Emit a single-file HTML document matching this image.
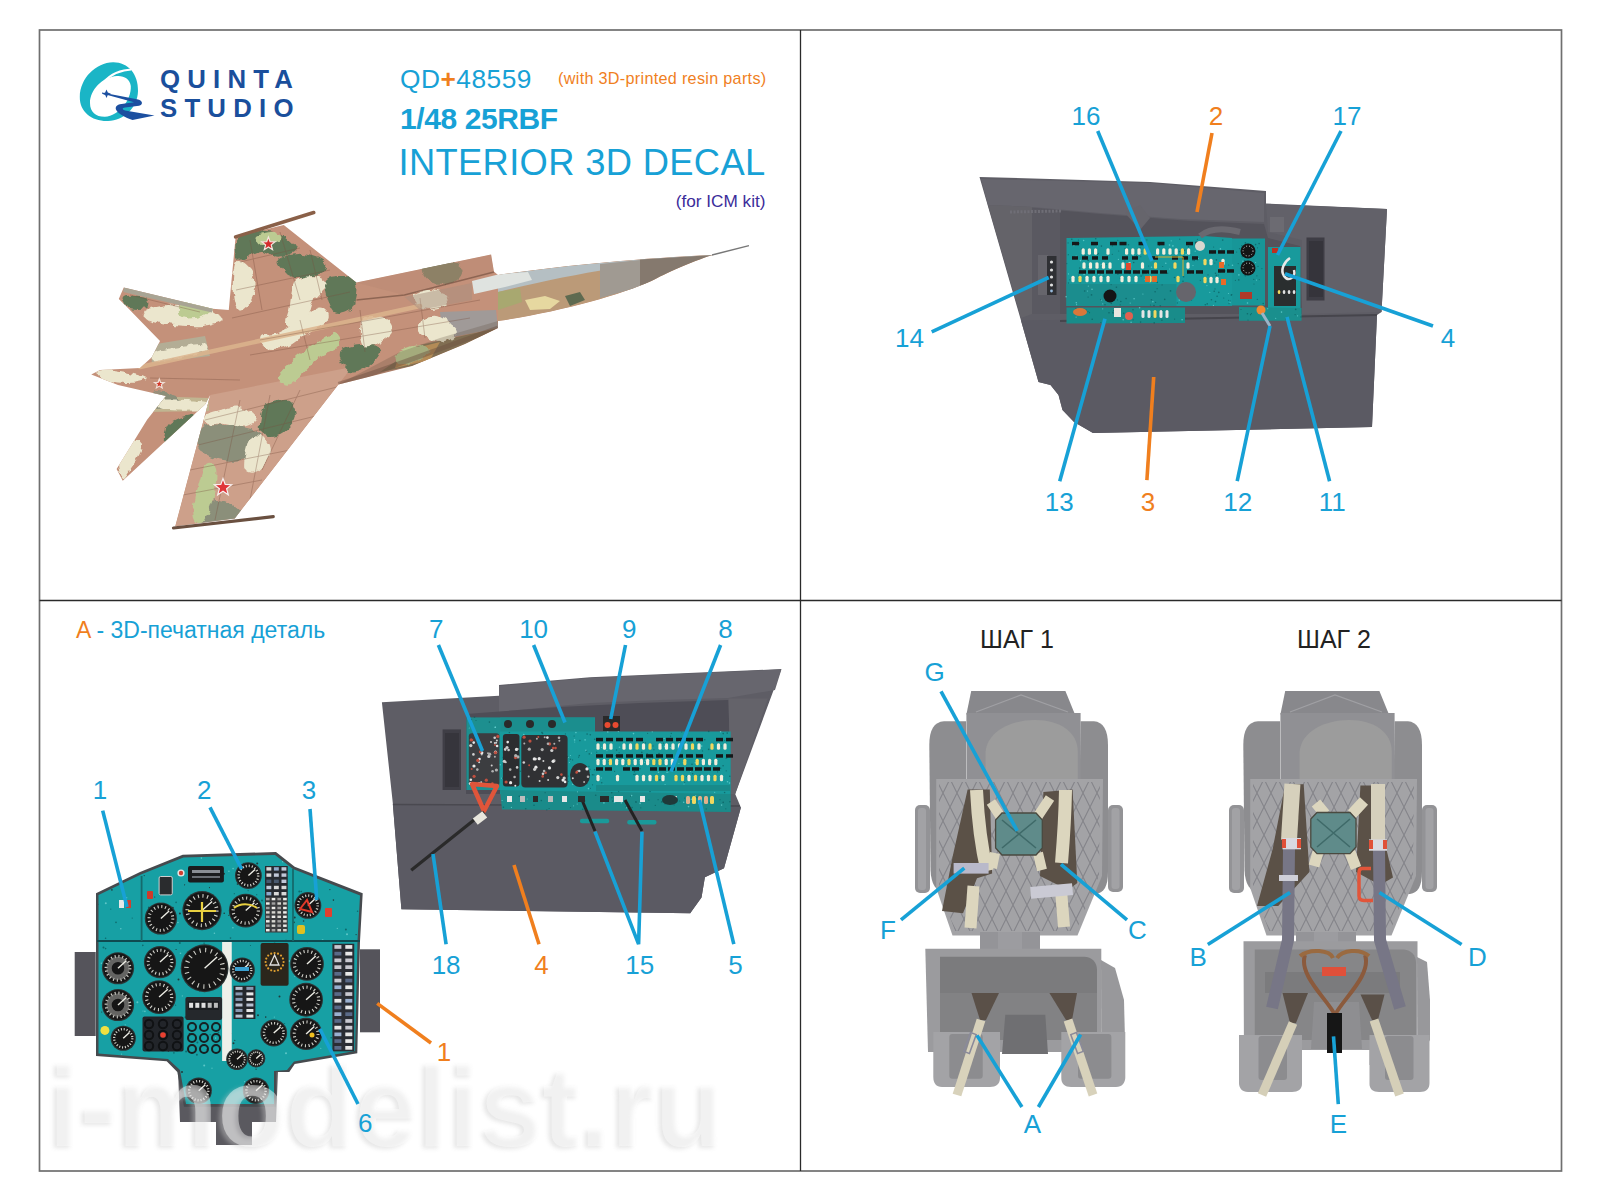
<!DOCTYPE html>
<html><head><meta charset="utf-8">
<style>
html,body{margin:0;padding:0;background:#fff;}
body{width:1600px;height:1200px;overflow:hidden;position:relative;font-family:"Liberation Sans",sans-serif;}
svg{position:absolute;left:0;top:0;}
.lb{font-family:"Liberation Sans",sans-serif;font-size:26px;fill:#17a1d6;text-anchor:middle;}
.or{fill:#f07f1e;}
.ln{stroke:#17a1d6;stroke-width:3.6;fill:none;stroke-linecap:butt;}
.lo{stroke:#f07f1e;stroke-width:3.6;fill:none;}
</style></head>
<body>
<svg width="1600" height="1200" viewBox="0 0 1600 1200">
<!-- frame -->
<rect x="39.5" y="30" width="1522" height="1141" fill="none" stroke="#6f6f6f" stroke-width="1.7"/>
<line x1="800.5" y1="30" x2="800.5" y2="1171" stroke="#2a2a2a" stroke-width="1.3"/>
<line x1="39.5" y1="600.5" x2="1561.5" y2="600.5" stroke="#2a2a2a" stroke-width="1.3"/>

<!-- header text -->
<g font-family="Liberation Sans" >
<text x="160" y="87.5" font-size="25.8" font-weight="bold" fill="#1a4f9c" letter-spacing="7.2">QUINTA</text>
<text x="160" y="116.5" font-size="25.8" font-weight="bold" fill="#1a4f9c" letter-spacing="7.2">STUDIO</text>
<text x="400" y="87.7" font-size="26.3" fill="#17a1d6" letter-spacing="0.5">QD<tspan fill="#f07f1e" font-weight="bold">+</tspan>48559</text>
<text x="766.5" y="83.5" font-size="16.2" fill="#f07f1e" text-anchor="end" letter-spacing="0.3">(with 3D-printed resin parts)</text>
<text x="400" y="129" font-size="30" font-weight="bold" fill="#17a1d6" letter-spacing="-0.4">1/48 25RBF</text>
<text x="765.5" y="175" font-size="36.3" fill="#17a1d6" text-anchor="end" letter-spacing="0.35">INTERIOR 3D DECAL</text>
<text x="765.5" y="206.5" font-size="17.2" fill="#3b2c9a" text-anchor="end">(for ICM kit)</text>
<text x="76" y="637.7" font-size="23" fill="#f07f1e">A<tspan fill="#17a1d6"> - 3D-печатная деталь</tspan></text>
<text x="1017" y="648" font-size="25" fill="#222" text-anchor="middle">ШАГ 1</text>
<text x="1334" y="648" font-size="25" fill="#222" text-anchor="middle">ШАГ 2</text>
</g>


<!-- TOP RIGHT PANEL -->
<g id="trp">
<path d="M979.5,177 L1050,179 L1150,182 L1266,191 L1266,203.5 L1387,209 L1381.5,312 L1377,315 L1372,427 L1093,433 L1074,422 L1062.5,410 L1058.5,395 L1050.5,385 L1038.5,382 L1021,320.5 Z" fill="#5e5d65"/>
<!-- top rail lighter -->
<path d="M981,179 L1150,183 L1264,193 L1264,222 L1180,219 L1100,213 L1032,207 L988,205 Z" fill="#67666e"/>
<!-- inner cavity -->
<path d="M1032,208 L1100,214 L1190,221 L1264,224 L1268,238 L1300,246 L1302,314 L1032,314 Z" fill="#54535b"/>
<path d="M1032,208 L1060,211 L1060,314 L1032,314 Z" fill="#5a5961"/>
<!-- left inner wall -->
<path d="M988,205 L1032,207 L1032,314 L1021,318 Z" fill="#646369"/>
<!-- right block -->
<path d="M1266,204 L1387,209 L1381.5,312 L1302,314 L1302,240 L1268,232 Z" fill="#626169"/>
<rect x="1306.5" y="237.5" width="18" height="63" fill="#3e3d45"/>
<rect x="1309" y="241" width="14" height="56" fill="#35343b"/>
<!-- lower box -->
<path d="M1021,320.5 L1377,315 L1372,427 L1093,433 L1074,422 L1062.5,410 L1058.5,395 L1050.5,385 L1038.5,382 Z" fill="#5b5a63"/>
<line x1="1060" y1="321" x2="1377" y2="315" stroke="#46454c" stroke-width="2"/>
<!-- teal panels -->
<path d="M1066.5,238 L1204,236 L1232,238 L1232,306 L1066.5,306 Z" fill="#189a9c"/>
<rect x="1066.5" y="284" width="110" height="22" fill="#1b8d8e"/>
<rect x="1232" y="238.5" width="33" height="67" fill="#179698"/>
<rect x="1268" y="247" width="32.5" height="65" fill="#189a9c"/>
<path d="M1066.5,307.5 L1185,307.5 L1185,323 L1066.5,323.5 Z" fill="#198c8a"/>
<path d="M1239,307 L1301.5,308 L1301.5,320.8 L1239,320.8 Z" fill="#1a8f8d"/>
</g>



<!-- BOTTOM LEFT SIDE PANEL -->
<g id="blp">
<path d="M381.9,702.3 L499,695.8 L499,685 L590,677.3 L781.4,669.1 L735.2,794 L740.9,807.5 L724,868.2 L704.9,877.2 L701.5,897.5 L690.2,913.2 L401.4,909.2 L392.8,803 Z" fill="#5e5d65"/>
<!-- top rail -->
<path d="M499,686 L590,678 L781.4,669.5 L775,690 L728,698 L660,700 L590,703 L499,712 Z" fill="#67666e"/>
<!-- cavity -->
<path d="M466,714 L560,707 L640,703 L728.5,700 L730.7,794 L466,794 Z" fill="#4e4d56"/>
<!-- right inner wall -->
<path d="M728.5,698.4 L767.8,698.4 L735.2,794 L730.7,794 Z" fill="#64636a"/>
<!-- slot -->
<rect x="442.6" y="729.4" width="18.4" height="60.6" fill="#3f3e46"/>
<rect x="445" y="733" width="14" height="54" fill="#36353c"/>
<!-- lower box -->
<path d="M392.8,804 L737,805 L740.9,807.5 L724,868.2 L704.9,877.2 L701.5,897.5 L690.2,913.2 L401.4,909.2 Z" fill="#5b5a63"/>
<line x1="393" y1="804.5" x2="740" y2="806" stroke="#4a4950" stroke-width="1.5"/>
<!-- teal -->
<rect x="466.4" y="717.4" width="33.6" height="72.6" fill="#1d8f8f"/>
<path d="M500,717.5 L595,717.5 L595,731.5 L730.7,731.5 L730.7,794 L500,794 Z" fill="#189a9c"/>
<path d="M500,790 L730.7,794 L730.7,812 L502,809.5 Z" fill="#1a8b8a"/>
<!-- clips -->
<rect x="580" y="818.7" width="29.2" height="4.5" rx="2" fill="#1a9a9a"/>
<rect x="627.2" y="819.9" width="29.3" height="4.5" rx="2" fill="#1a9a9a"/>
<path d="M582,800 L595,831" stroke="#222" stroke-width="3"/>
<path d="M625,800 L642,831" stroke="#222" stroke-width="3"/>
</g>


<g id="speck"><circle cx="1141.1" cy="276.1" r="0.8" fill="#0c5c5e" opacity="0.7"/><circle cx="1150.3" cy="277.9" r="0.6" fill="#0c5c5e" opacity="0.7"/><circle cx="1145.0" cy="279.7" r="0.6" fill="#6fd8d8" opacity="0.7"/><circle cx="1140.1" cy="247.6" r="0.6" fill="#0c5c5e" opacity="0.7"/><circle cx="1229.0" cy="303.6" r="0.6" fill="#0c5c5e" opacity="0.7"/><circle cx="1068.5" cy="273.9" r="0.6" fill="#6fd8d8" opacity="0.7"/><circle cx="1097.6" cy="254.5" r="0.6" fill="#0c5c5e" opacity="0.7"/><circle cx="1120.2" cy="278.2" r="0.6" fill="#0c5c5e" opacity="0.7"/><circle cx="1104.8" cy="258.0" r="0.6" fill="#0c5c5e" opacity="0.7"/><circle cx="1080.1" cy="282.5" r="0.8" fill="#0c5c5e" opacity="0.7"/><circle cx="1231.3" cy="295.1" r="0.8" fill="#0c5c5e" opacity="0.7"/><circle cx="1191.8" cy="272.9" r="0.6" fill="#6fd8d8" opacity="0.7"/><circle cx="1159.5" cy="245.3" r="0.6" fill="#0c5c5e" opacity="0.7"/><circle cx="1130.2" cy="303.1" r="0.6" fill="#6fd8d8" opacity="0.7"/><circle cx="1100.8" cy="299.9" r="0.8" fill="#0c5c5e" opacity="0.7"/><circle cx="1228.7" cy="265.0" r="0.6" fill="#0c5c5e" opacity="0.7"/><circle cx="1170.5" cy="290.9" r="0.8" fill="#0c5c5e" opacity="0.7"/><circle cx="1080.5" cy="260.6" r="0.8" fill="#6fd8d8" opacity="0.7"/><circle cx="1088.3" cy="286.1" r="0.6" fill="#6fd8d8" opacity="0.7"/><circle cx="1143.2" cy="271.1" r="0.6" fill="#0c5c5e" opacity="0.7"/><circle cx="1150.5" cy="305.0" r="0.6" fill="#0c5c5e" opacity="0.7"/><circle cx="1172.9" cy="245.9" r="0.8" fill="#6fd8d8" opacity="0.7"/><circle cx="1066.1" cy="296.8" r="0.8" fill="#6fd8d8" opacity="0.7"/><circle cx="1101.0" cy="264.8" r="0.6" fill="#6fd8d8" opacity="0.7"/><circle cx="1230.2" cy="252.5" r="0.8" fill="#6fd8d8" opacity="0.7"/><circle cx="1194.3" cy="260.4" r="0.8" fill="#0c5c5e" opacity="0.7"/><circle cx="1078.2" cy="244.1" r="0.6" fill="#6fd8d8" opacity="0.7"/><circle cx="1165.8" cy="263.3" r="0.8" fill="#6fd8d8" opacity="0.7"/><circle cx="1225.2" cy="270.9" r="0.6" fill="#0c5c5e" opacity="0.7"/><circle cx="1096.3" cy="248.5" r="0.6" fill="#0c5c5e" opacity="0.7"/><circle cx="1107.4" cy="250.9" r="0.6" fill="#0c5c5e" opacity="0.7"/><circle cx="1223.7" cy="298.0" r="0.6" fill="#0c5c5e" opacity="0.7"/><circle cx="1073.9" cy="245.4" r="0.8" fill="#6fd8d8" opacity="0.7"/><circle cx="1188.8" cy="264.6" r="0.8" fill="#0c5c5e" opacity="0.7"/><circle cx="1147.5" cy="273.4" r="0.6" fill="#6fd8d8" opacity="0.7"/><circle cx="1103.9" cy="276.0" r="0.6" fill="#0c5c5e" opacity="0.7"/><circle cx="1101.3" cy="300.2" r="0.6" fill="#6fd8d8" opacity="0.7"/><circle cx="1110.7" cy="268.3" r="0.6" fill="#6fd8d8" opacity="0.7"/><circle cx="1095.3" cy="263.1" r="0.6" fill="#6fd8d8" opacity="0.7"/><circle cx="1126.1" cy="298.6" r="0.8" fill="#0c5c5e" opacity="0.7"/><circle cx="1187.7" cy="273.5" r="0.6" fill="#0c5c5e" opacity="0.7"/><circle cx="1071.8" cy="239.2" r="0.8" fill="#0c5c5e" opacity="0.7"/><circle cx="1117.8" cy="240.3" r="0.6" fill="#0c5c5e" opacity="0.7"/><circle cx="1077.2" cy="259.2" r="0.6" fill="#6fd8d8" opacity="0.7"/><circle cx="1078.5" cy="275.1" r="0.6" fill="#0c5c5e" opacity="0.7"/><circle cx="1188.4" cy="246.8" r="0.8" fill="#0c5c5e" opacity="0.7"/><circle cx="1080.1" cy="270.2" r="0.6" fill="#0c5c5e" opacity="0.7"/><circle cx="1222.7" cy="240.1" r="0.8" fill="#0c5c5e" opacity="0.7"/><circle cx="1068.4" cy="283.0" r="0.8" fill="#0c5c5e" opacity="0.7"/><circle cx="1068.1" cy="242.9" r="0.6" fill="#0c5c5e" opacity="0.7"/><circle cx="1085.2" cy="255.5" r="0.8" fill="#0c5c5e" opacity="0.7"/><circle cx="1120.8" cy="301.5" r="0.8" fill="#0c5c5e" opacity="0.7"/><circle cx="1142.8" cy="274.8" r="0.6" fill="#0c5c5e" opacity="0.7"/><circle cx="1165.8" cy="270.7" r="0.6" fill="#0c5c5e" opacity="0.7"/><circle cx="1084.7" cy="291.0" r="0.8" fill="#0c5c5e" opacity="0.7"/><circle cx="1214.8" cy="263.0" r="0.6" fill="#0c5c5e" opacity="0.7"/><circle cx="1167.6" cy="273.3" r="0.8" fill="#0c5c5e" opacity="0.7"/><circle cx="1220.4" cy="271.9" r="0.6" fill="#0c5c5e" opacity="0.7"/><circle cx="1133.2" cy="255.0" r="0.8" fill="#6fd8d8" opacity="0.7"/><circle cx="1212.1" cy="264.1" r="0.8" fill="#6fd8d8" opacity="0.7"/><circle cx="1088.6" cy="271.8" r="0.6" fill="#0c5c5e" opacity="0.7"/><circle cx="1076.6" cy="304.7" r="0.6" fill="#6fd8d8" opacity="0.7"/><circle cx="1140.8" cy="256.7" r="0.6" fill="#0c5c5e" opacity="0.7"/><circle cx="1129.5" cy="273.4" r="0.8" fill="#0c5c5e" opacity="0.7"/><circle cx="1205.3" cy="304.8" r="0.8" fill="#0c5c5e" opacity="0.7"/><circle cx="1078.4" cy="240.1" r="0.6" fill="#0c5c5e" opacity="0.7"/><circle cx="1183.6" cy="276.8" r="0.8" fill="#0c5c5e" opacity="0.7"/><circle cx="1197.4" cy="239.3" r="0.6" fill="#0c5c5e" opacity="0.7"/><circle cx="1141.5" cy="239.7" r="0.8" fill="#6fd8d8" opacity="0.7"/><circle cx="1195.4" cy="292.2" r="0.6" fill="#0c5c5e" opacity="0.7"/><circle cx="1084.1" cy="274.4" r="0.8" fill="#6fd8d8" opacity="0.7"/><circle cx="1179.6" cy="251.6" r="0.8" fill="#0c5c5e" opacity="0.7"/><circle cx="1095.7" cy="238.7" r="0.8" fill="#0c5c5e" opacity="0.7"/><circle cx="1184.6" cy="250.2" r="0.8" fill="#0c5c5e" opacity="0.7"/><circle cx="1155.6" cy="302.4" r="0.6" fill="#0c5c5e" opacity="0.7"/><circle cx="1206.9" cy="285.6" r="0.6" fill="#6fd8d8" opacity="0.7"/><circle cx="1134.1" cy="298.7" r="0.8" fill="#6fd8d8" opacity="0.7"/><circle cx="1140.8" cy="251.4" r="0.6" fill="#0c5c5e" opacity="0.7"/><circle cx="1157.3" cy="282.4" r="0.8" fill="#0c5c5e" opacity="0.7"/><circle cx="1120.2" cy="304.8" r="0.6" fill="#0c5c5e" opacity="0.7"/><circle cx="1209.8" cy="292.3" r="0.6" fill="#6fd8d8" opacity="0.7"/><circle cx="1106.2" cy="264.5" r="0.6" fill="#0c5c5e" opacity="0.7"/><circle cx="1155.1" cy="291.8" r="0.8" fill="#0c5c5e" opacity="0.7"/><circle cx="1217.1" cy="296.2" r="0.8" fill="#0c5c5e" opacity="0.7"/><circle cx="1079.7" cy="268.0" r="0.8" fill="#0c5c5e" opacity="0.7"/><circle cx="1146.9" cy="239.9" r="0.6" fill="#0c5c5e" opacity="0.7"/><circle cx="1198.8" cy="249.8" r="0.8" fill="#0c5c5e" opacity="0.7"/><circle cx="1196.8" cy="247.6" r="0.6" fill="#0c5c5e" opacity="0.7"/><circle cx="1215.5" cy="273.2" r="0.8" fill="#0c5c5e" opacity="0.7"/><circle cx="1162.1" cy="284.9" r="0.6" fill="#0c5c5e" opacity="0.7"/><circle cx="1153.4" cy="257.7" r="0.6" fill="#0c5c5e" opacity="0.7"/><circle cx="1151.4" cy="299.7" r="0.8" fill="#0c5c5e" opacity="0.7"/><circle cx="1177.4" cy="302.9" r="0.6" fill="#0c5c5e" opacity="0.7"/><circle cx="1207.2" cy="303.9" r="0.8" fill="#0c5c5e" opacity="0.7"/><circle cx="1148.6" cy="266.0" r="0.6" fill="#0c5c5e" opacity="0.7"/><circle cx="1066.8" cy="263.6" r="0.6" fill="#0c5c5e" opacity="0.7"/><circle cx="1218.3" cy="275.0" r="0.6" fill="#0c5c5e" opacity="0.7"/><circle cx="1081.5" cy="249.3" r="0.8" fill="#0c5c5e" opacity="0.7"/><circle cx="1218.8" cy="292.4" r="0.8" fill="#0c5c5e" opacity="0.7"/><circle cx="1106.9" cy="271.5" r="0.8" fill="#0c5c5e" opacity="0.7"/><circle cx="1215.5" cy="301.6" r="0.8" fill="#0c5c5e" opacity="0.7"/><circle cx="1118.7" cy="251.0" r="0.6" fill="#0c5c5e" opacity="0.7"/><circle cx="1087.5" cy="291.0" r="0.6" fill="#6fd8d8" opacity="0.7"/><circle cx="1098.2" cy="253.5" r="0.8" fill="#0c5c5e" opacity="0.7"/><circle cx="1186.1" cy="254.6" r="0.8" fill="#6fd8d8" opacity="0.7"/><circle cx="1148.9" cy="277.6" r="0.8" fill="#0c5c5e" opacity="0.7"/><circle cx="1098.8" cy="274.1" r="0.8" fill="#6fd8d8" opacity="0.7"/><circle cx="1128.4" cy="266.1" r="0.6" fill="#0c5c5e" opacity="0.7"/><circle cx="1099.9" cy="280.9" r="0.6" fill="#0c5c5e" opacity="0.7"/><circle cx="1101.9" cy="274.9" r="0.6" fill="#6fd8d8" opacity="0.7"/><circle cx="1217.9" cy="280.7" r="0.8" fill="#6fd8d8" opacity="0.7"/><circle cx="1118.4" cy="259.4" r="0.6" fill="#6fd8d8" opacity="0.7"/><circle cx="1195.2" cy="251.2" r="0.6" fill="#6fd8d8" opacity="0.7"/><circle cx="1213.6" cy="247.0" r="0.6" fill="#0c5c5e" opacity="0.7"/><circle cx="1130.4" cy="267.6" r="0.8" fill="#0c5c5e" opacity="0.7"/><circle cx="1197.1" cy="246.6" r="0.8" fill="#0c5c5e" opacity="0.7"/><circle cx="1179.7" cy="239.2" r="0.6" fill="#0c5c5e" opacity="0.7"/><circle cx="1179.3" cy="300.0" r="0.8" fill="#6fd8d8" opacity="0.7"/><circle cx="1183.0" cy="281.2" r="0.8" fill="#0c5c5e" opacity="0.7"/><circle cx="1231.8" cy="294.6" r="0.6" fill="#0c5c5e" opacity="0.7"/><circle cx="1083.6" cy="240.5" r="0.8" fill="#6fd8d8" opacity="0.7"/><circle cx="1097.5" cy="245.8" r="0.6" fill="#6fd8d8" opacity="0.7"/><circle cx="1230.4" cy="301.0" r="0.6" fill="#0c5c5e" opacity="0.7"/><circle cx="1076.3" cy="302.7" r="0.8" fill="#6fd8d8" opacity="0.7"/><circle cx="1192.9" cy="260.2" r="0.8" fill="#0c5c5e" opacity="0.7"/><circle cx="1151.5" cy="267.2" r="0.8" fill="#6fd8d8" opacity="0.7"/><circle cx="1171.2" cy="240.8" r="0.6" fill="#6fd8d8" opacity="0.7"/><circle cx="1133.7" cy="262.5" r="0.8" fill="#0c5c5e" opacity="0.7"/><circle cx="1219.0" cy="279.1" r="0.6" fill="#0c5c5e" opacity="0.7"/><circle cx="1197.5" cy="260.0" r="0.6" fill="#0c5c5e" opacity="0.7"/><circle cx="1211.4" cy="299.8" r="0.8" fill="#0c5c5e" opacity="0.7"/><circle cx="1165.5" cy="272.3" r="0.8" fill="#0c5c5e" opacity="0.7"/><circle cx="1112.4" cy="245.9" r="0.6" fill="#0c5c5e" opacity="0.7"/><circle cx="1088.1" cy="260.4" r="0.8" fill="#0c5c5e" opacity="0.7"/><circle cx="1193.0" cy="265.6" r="0.6" fill="#6fd8d8" opacity="0.7"/><circle cx="1198.4" cy="258.5" r="0.6" fill="#6fd8d8" opacity="0.7"/><circle cx="1213.4" cy="305.4" r="0.6" fill="#6fd8d8" opacity="0.7"/><circle cx="1111.3" cy="303.4" r="0.8" fill="#0c5c5e" opacity="0.7"/><circle cx="1101.9" cy="265.6" r="0.6" fill="#0c5c5e" opacity="0.7"/><circle cx="1078.8" cy="273.0" r="0.8" fill="#0c5c5e" opacity="0.7"/><circle cx="1101.4" cy="246.1" r="0.8" fill="#0c5c5e" opacity="0.7"/><circle cx="1069.8" cy="279.8" r="0.6" fill="#0c5c5e" opacity="0.7"/><circle cx="1139.6" cy="272.3" r="0.6" fill="#0c5c5e" opacity="0.7"/><circle cx="1128.4" cy="244.7" r="0.8" fill="#0c5c5e" opacity="0.7"/><circle cx="1216.3" cy="275.4" r="0.8" fill="#0c5c5e" opacity="0.7"/><circle cx="1160.3" cy="305.7" r="0.8" fill="#0c5c5e" opacity="0.7"/><circle cx="1078.6" cy="278.6" r="0.6" fill="#0c5c5e" opacity="0.7"/><circle cx="1220.4" cy="248.9" r="0.8" fill="#6fd8d8" opacity="0.7"/><circle cx="1208.0" cy="274.9" r="0.6" fill="#0c5c5e" opacity="0.7"/><circle cx="1222.9" cy="266.6" r="0.8" fill="#0c5c5e" opacity="0.7"/><circle cx="1117.9" cy="274.1" r="0.8" fill="#0c5c5e" opacity="0.7"/><circle cx="1110.8" cy="301.2" r="0.8" fill="#6fd8d8" opacity="0.7"/><circle cx="1068.3" cy="254.7" r="0.6" fill="#0c5c5e" opacity="0.7"/><circle cx="1092.0" cy="289.3" r="0.8" fill="#6fd8d8" opacity="0.7"/><circle cx="1215.0" cy="288.9" r="0.6" fill="#0c5c5e" opacity="0.7"/><circle cx="1230.1" cy="302.2" r="0.6" fill="#6fd8d8" opacity="0.7"/><circle cx="1137.3" cy="270.5" r="0.6" fill="#6fd8d8" opacity="0.7"/><circle cx="1152.9" cy="301.7" r="0.8" fill="#6fd8d8" opacity="0.7"/><circle cx="1228.5" cy="293.5" r="0.6" fill="#6fd8d8" opacity="0.7"/><circle cx="1169.6" cy="269.0" r="0.6" fill="#6fd8d8" opacity="0.7"/><circle cx="1125.2" cy="248.5" r="0.8" fill="#0c5c5e" opacity="0.7"/><circle cx="1089.2" cy="266.4" r="0.8" fill="#0c5c5e" opacity="0.7"/><circle cx="1162.7" cy="266.5" r="0.6" fill="#0c5c5e" opacity="0.7"/><circle cx="1187.9" cy="254.2" r="0.6" fill="#0c5c5e" opacity="0.7"/><circle cx="1214.2" cy="291.3" r="0.8" fill="#0c5c5e" opacity="0.7"/><circle cx="1111.1" cy="284.6" r="0.6" fill="#0c5c5e" opacity="0.7"/><circle cx="1112.3" cy="254.3" r="0.6" fill="#0c5c5e" opacity="0.7"/><circle cx="1228.6" cy="300.3" r="0.6" fill="#0c5c5e" opacity="0.7"/><circle cx="1076.1" cy="256.4" r="0.8" fill="#6fd8d8" opacity="0.7"/><circle cx="1169.5" cy="245.0" r="0.8" fill="#6fd8d8" opacity="0.7"/><circle cx="1191.5" cy="300.1" r="0.6" fill="#0c5c5e" opacity="0.7"/><circle cx="1105.0" cy="304.7" r="0.8" fill="#0c5c5e" opacity="0.7"/><circle cx="1124.8" cy="261.0" r="0.8" fill="#0c5c5e" opacity="0.7"/><circle cx="1088.1" cy="297.1" r="0.6" fill="#0c5c5e" opacity="0.7"/><circle cx="1200.3" cy="280.4" r="0.6" fill="#0c5c5e" opacity="0.7"/><circle cx="1136.4" cy="255.5" r="0.6" fill="#0c5c5e" opacity="0.7"/><circle cx="1091.5" cy="294.9" r="0.8" fill="#0c5c5e" opacity="0.7"/><circle cx="1157.1" cy="288.7" r="0.6" fill="#0c5c5e" opacity="0.7"/><circle cx="1174.5" cy="277.5" r="0.8" fill="#0c5c5e" opacity="0.7"/><circle cx="1079.0" cy="243.6" r="0.8" fill="#0c5c5e" opacity="0.7"/><circle cx="1142.9" cy="294.0" r="0.6" fill="#6fd8d8" opacity="0.7"/><circle cx="1117.5" cy="299.9" r="0.6" fill="#0c5c5e" opacity="0.7"/><circle cx="1116.4" cy="287.3" r="0.8" fill="#0c5c5e" opacity="0.7"/><circle cx="1212.4" cy="252.9" r="0.8" fill="#0c5c5e" opacity="0.7"/><circle cx="1216.4" cy="259.9" r="0.8" fill="#0c5c5e" opacity="0.7"/><circle cx="1164.7" cy="299.4" r="0.8" fill="#0c5c5e" opacity="0.7"/><circle cx="1154.0" cy="305.5" r="0.8" fill="#0c5c5e" opacity="0.7"/><circle cx="1102.7" cy="303.8" r="0.6" fill="#6fd8d8" opacity="0.7"/><circle cx="1109.0" cy="312.8" r="0.8" fill="#0c5c5e" opacity="0.7"/><circle cx="1113.1" cy="313.2" r="0.6" fill="#0c5c5e" opacity="0.7"/><circle cx="1133.1" cy="319.8" r="0.6" fill="#0c5c5e" opacity="0.7"/><circle cx="1133.0" cy="309.8" r="0.8" fill="#0c5c5e" opacity="0.7"/><circle cx="1162.6" cy="310.5" r="0.6" fill="#0c5c5e" opacity="0.7"/><circle cx="1084.9" cy="311.7" r="0.6" fill="#0c5c5e" opacity="0.7"/><circle cx="1166.2" cy="313.8" r="0.8" fill="#0c5c5e" opacity="0.7"/><circle cx="1076.0" cy="308.3" r="0.6" fill="#0c5c5e" opacity="0.7"/><circle cx="1076.1" cy="317.1" r="0.6" fill="#6fd8d8" opacity="0.7"/><circle cx="1154.7" cy="317.4" r="0.6" fill="#0c5c5e" opacity="0.7"/><circle cx="1092.2" cy="319.2" r="0.8" fill="#0c5c5e" opacity="0.7"/><circle cx="1112.9" cy="312.4" r="0.8" fill="#0c5c5e" opacity="0.7"/><circle cx="1082.3" cy="314.8" r="0.6" fill="#0c5c5e" opacity="0.7"/><circle cx="1139.6" cy="307.7" r="0.8" fill="#6fd8d8" opacity="0.7"/><circle cx="1161.9" cy="320.3" r="0.8" fill="#0c5c5e" opacity="0.7"/><circle cx="1142.2" cy="315.4" r="0.6" fill="#6fd8d8" opacity="0.7"/><circle cx="1116.2" cy="313.7" r="0.6" fill="#6fd8d8" opacity="0.7"/><circle cx="1154.2" cy="322.9" r="0.8" fill="#0c5c5e" opacity="0.7"/><circle cx="1086.0" cy="310.3" r="0.8" fill="#0c5c5e" opacity="0.7"/><circle cx="1100.8" cy="322.5" r="0.6" fill="#0c5c5e" opacity="0.7"/><circle cx="1102.7" cy="308.8" r="0.6" fill="#6fd8d8" opacity="0.7"/><circle cx="1174.6" cy="319.1" r="0.6" fill="#0c5c5e" opacity="0.7"/><circle cx="1123.2" cy="319.8" r="0.8" fill="#6fd8d8" opacity="0.7"/><circle cx="1089.5" cy="312.7" r="0.6" fill="#0c5c5e" opacity="0.7"/><circle cx="1151.4" cy="316.5" r="0.6" fill="#0c5c5e" opacity="0.7"/><circle cx="1088.0" cy="311.5" r="0.6" fill="#0c5c5e" opacity="0.7"/><circle cx="1140.6" cy="322.1" r="0.8" fill="#0c5c5e" opacity="0.7"/><circle cx="1123.7" cy="313.4" r="0.8" fill="#0c5c5e" opacity="0.7"/><circle cx="1131.1" cy="322.3" r="0.8" fill="#6fd8d8" opacity="0.7"/><circle cx="1113.5" cy="310.5" r="0.6" fill="#0c5c5e" opacity="0.7"/><circle cx="1182.1" cy="319.7" r="0.8" fill="#6fd8d8" opacity="0.7"/><circle cx="1253.7" cy="254.2" r="0.6" fill="#0c5c5e" opacity="0.7"/><circle cx="1261.9" cy="268.6" r="0.6" fill="#0c5c5e" opacity="0.7"/><circle cx="1245.9" cy="297.5" r="0.8" fill="#6fd8d8" opacity="0.7"/><circle cx="1257.5" cy="247.8" r="0.6" fill="#0c5c5e" opacity="0.7"/><circle cx="1256.5" cy="280.1" r="0.6" fill="#6fd8d8" opacity="0.7"/><circle cx="1250.9" cy="250.1" r="0.6" fill="#6fd8d8" opacity="0.7"/><circle cx="1259.1" cy="243.6" r="0.8" fill="#0c5c5e" opacity="0.7"/><circle cx="1255.6" cy="244.6" r="0.8" fill="#0c5c5e" opacity="0.7"/><circle cx="1247.5" cy="303.0" r="0.8" fill="#6fd8d8" opacity="0.7"/><circle cx="1258.0" cy="266.4" r="0.6" fill="#0c5c5e" opacity="0.7"/><circle cx="1238.9" cy="274.9" r="0.8" fill="#6fd8d8" opacity="0.7"/><circle cx="1263.2" cy="303.5" r="0.8" fill="#0c5c5e" opacity="0.7"/><circle cx="1245.4" cy="275.8" r="0.8" fill="#0c5c5e" opacity="0.7"/><circle cx="1255.6" cy="262.5" r="0.6" fill="#6fd8d8" opacity="0.7"/><circle cx="1254.0" cy="284.0" r="0.6" fill="#0c5c5e" opacity="0.7"/><circle cx="1246.7" cy="296.7" r="0.8" fill="#6fd8d8" opacity="0.7"/><circle cx="1241.7" cy="245.7" r="0.6" fill="#0c5c5e" opacity="0.7"/><circle cx="1238.8" cy="279.9" r="0.8" fill="#0c5c5e" opacity="0.7"/><circle cx="1244.4" cy="274.7" r="0.8" fill="#0c5c5e" opacity="0.7"/><circle cx="1256.9" cy="275.8" r="0.6" fill="#0c5c5e" opacity="0.7"/><circle cx="1238.2" cy="263.6" r="0.6" fill="#0c5c5e" opacity="0.7"/><circle cx="1242.2" cy="256.6" r="0.8" fill="#0c5c5e" opacity="0.7"/><circle cx="1253.1" cy="268.4" r="0.8" fill="#6fd8d8" opacity="0.7"/><circle cx="1235.4" cy="280.3" r="0.6" fill="#0c5c5e" opacity="0.7"/><circle cx="1252.8" cy="250.2" r="0.6" fill="#0c5c5e" opacity="0.7"/><circle cx="1233.2" cy="269.5" r="0.6" fill="#6fd8d8" opacity="0.7"/><circle cx="1239.5" cy="248.7" r="0.6" fill="#0c5c5e" opacity="0.7"/><circle cx="1245.4" cy="242.9" r="0.8" fill="#0c5c5e" opacity="0.7"/><circle cx="1236.6" cy="252.0" r="0.6" fill="#0c5c5e" opacity="0.7"/><circle cx="1244.7" cy="260.5" r="0.8" fill="#0c5c5e" opacity="0.7"/><circle cx="1232.5" cy="265.2" r="0.8" fill="#6fd8d8" opacity="0.7"/><circle cx="1253.8" cy="279.4" r="0.6" fill="#0c5c5e" opacity="0.7"/><circle cx="1242.9" cy="261.3" r="0.8" fill="#6fd8d8" opacity="0.7"/><circle cx="1250.4" cy="251.9" r="0.8" fill="#0c5c5e" opacity="0.7"/><circle cx="1259.2" cy="279.6" r="0.6" fill="#0c5c5e" opacity="0.7"/><circle cx="1257.3" cy="299.4" r="0.6" fill="#0c5c5e" opacity="0.7"/><circle cx="1252.2" cy="272.9" r="0.6" fill="#0c5c5e" opacity="0.7"/><circle cx="1300.9" cy="316.9" r="0.6" fill="#0c5c5e" opacity="0.7"/><circle cx="1297.6" cy="315.8" r="0.6" fill="#6fd8d8" opacity="0.7"/><circle cx="1247.4" cy="313.7" r="0.8" fill="#0c5c5e" opacity="0.7"/><circle cx="1259.7" cy="308.3" r="0.8" fill="#0c5c5e" opacity="0.7"/><circle cx="1267.7" cy="308.7" r="0.6" fill="#6fd8d8" opacity="0.7"/><circle cx="1295.1" cy="314.6" r="0.6" fill="#0c5c5e" opacity="0.7"/><circle cx="1295.7" cy="309.4" r="0.8" fill="#0c5c5e" opacity="0.7"/><circle cx="1248.0" cy="320.1" r="0.6" fill="#0c5c5e" opacity="0.7"/><circle cx="1281.5" cy="312.1" r="0.8" fill="#6fd8d8" opacity="0.7"/><circle cx="1250.5" cy="314.7" r="0.6" fill="#0c5c5e" opacity="0.7"/><circle cx="1241.0" cy="309.5" r="0.6" fill="#0c5c5e" opacity="0.7"/><circle cx="1285.9" cy="318.9" r="0.8" fill="#0c5c5e" opacity="0.7"/><circle cx="1275.7" cy="318.3" r="0.6" fill="#6fd8d8" opacity="0.7"/><circle cx="1251.4" cy="313.6" r="0.6" fill="#0c5c5e" opacity="0.7"/><circle cx="588.9" cy="766.3" r="0.6" fill="#0c5c5e" opacity="0.7"/><circle cx="619.5" cy="747.3" r="0.8" fill="#6fd8d8" opacity="0.7"/><circle cx="647.6" cy="733.3" r="0.6" fill="#0c5c5e" opacity="0.7"/><circle cx="720.6" cy="768.2" r="0.8" fill="#0c5c5e" opacity="0.7"/><circle cx="594.6" cy="769.7" r="0.8" fill="#0c5c5e" opacity="0.7"/><circle cx="611.7" cy="792.7" r="0.8" fill="#0c5c5e" opacity="0.7"/><circle cx="527.0" cy="738.1" r="0.8" fill="#0c5c5e" opacity="0.7"/><circle cx="619.8" cy="757.1" r="0.6" fill="#0c5c5e" opacity="0.7"/><circle cx="708.7" cy="749.4" r="0.8" fill="#0c5c5e" opacity="0.7"/><circle cx="586.6" cy="751.0" r="0.8" fill="#0c5c5e" opacity="0.7"/><circle cx="701.7" cy="746.1" r="0.8" fill="#6fd8d8" opacity="0.7"/><circle cx="615.6" cy="755.6" r="0.6" fill="#0c5c5e" opacity="0.7"/><circle cx="659.8" cy="763.6" r="0.6" fill="#0c5c5e" opacity="0.7"/><circle cx="570.4" cy="755.5" r="0.6" fill="#6fd8d8" opacity="0.7"/><circle cx="729.8" cy="776.3" r="0.8" fill="#0c5c5e" opacity="0.7"/><circle cx="596.9" cy="780.9" r="0.6" fill="#0c5c5e" opacity="0.7"/><circle cx="671.7" cy="766.1" r="0.6" fill="#6fd8d8" opacity="0.7"/><circle cx="619.5" cy="739.1" r="0.8" fill="#6fd8d8" opacity="0.7"/><circle cx="568.1" cy="776.1" r="0.6" fill="#0c5c5e" opacity="0.7"/><circle cx="539.6" cy="758.3" r="0.8" fill="#0c5c5e" opacity="0.7"/><circle cx="591.4" cy="753.1" r="0.6" fill="#6fd8d8" opacity="0.7"/><circle cx="570.4" cy="759.2" r="0.8" fill="#0c5c5e" opacity="0.7"/><circle cx="574.6" cy="739.9" r="0.8" fill="#6fd8d8" opacity="0.7"/><circle cx="546.6" cy="784.3" r="0.6" fill="#6fd8d8" opacity="0.7"/><circle cx="572.7" cy="784.3" r="0.8" fill="#6fd8d8" opacity="0.7"/><circle cx="539.5" cy="785.5" r="0.6" fill="#0c5c5e" opacity="0.7"/><circle cx="645.5" cy="742.9" r="0.6" fill="#0c5c5e" opacity="0.7"/><circle cx="524.4" cy="776.0" r="0.8" fill="#0c5c5e" opacity="0.7"/><circle cx="700.0" cy="775.2" r="0.6" fill="#0c5c5e" opacity="0.7"/><circle cx="660.1" cy="789.1" r="0.8" fill="#0c5c5e" opacity="0.7"/><circle cx="518.2" cy="744.8" r="0.8" fill="#6fd8d8" opacity="0.7"/><circle cx="663.4" cy="743.2" r="0.6" fill="#0c5c5e" opacity="0.7"/><circle cx="554.2" cy="772.2" r="0.8" fill="#0c5c5e" opacity="0.7"/><circle cx="684.9" cy="763.5" r="0.6" fill="#0c5c5e" opacity="0.7"/><circle cx="618.7" cy="791.6" r="0.6" fill="#0c5c5e" opacity="0.7"/><circle cx="552.0" cy="739.2" r="0.6" fill="#0c5c5e" opacity="0.7"/><circle cx="726.1" cy="758.3" r="0.6" fill="#0c5c5e" opacity="0.7"/><circle cx="708.7" cy="731.4" r="0.8" fill="#0c5c5e" opacity="0.7"/><circle cx="557.7" cy="780.8" r="0.6" fill="#6fd8d8" opacity="0.7"/><circle cx="565.6" cy="777.9" r="0.6" fill="#6fd8d8" opacity="0.7"/><circle cx="564.2" cy="765.0" r="0.6" fill="#6fd8d8" opacity="0.7"/><circle cx="727.2" cy="733.1" r="0.8" fill="#0c5c5e" opacity="0.7"/><circle cx="588.5" cy="788.6" r="0.8" fill="#6fd8d8" opacity="0.7"/><circle cx="541.4" cy="765.5" r="0.8" fill="#0c5c5e" opacity="0.7"/><circle cx="651.4" cy="779.5" r="0.8" fill="#0c5c5e" opacity="0.7"/><circle cx="690.2" cy="770.4" r="0.6" fill="#0c5c5e" opacity="0.7"/><circle cx="679.3" cy="741.2" r="0.8" fill="#6fd8d8" opacity="0.7"/><circle cx="653.7" cy="765.0" r="0.8" fill="#0c5c5e" opacity="0.7"/><circle cx="682.0" cy="745.6" r="0.8" fill="#0c5c5e" opacity="0.7"/><circle cx="550.9" cy="767.0" r="0.8" fill="#0c5c5e" opacity="0.7"/><circle cx="508.1" cy="768.0" r="0.6" fill="#0c5c5e" opacity="0.7"/><circle cx="603.1" cy="785.6" r="0.8" fill="#6fd8d8" opacity="0.7"/><circle cx="639.9" cy="768.7" r="0.8" fill="#0c5c5e" opacity="0.7"/><circle cx="601.6" cy="747.3" r="0.6" fill="#6fd8d8" opacity="0.7"/><circle cx="526.3" cy="742.0" r="0.6" fill="#0c5c5e" opacity="0.7"/><circle cx="533.6" cy="750.3" r="0.6" fill="#0c5c5e" opacity="0.7"/><circle cx="572.3" cy="769.5" r="0.8" fill="#0c5c5e" opacity="0.7"/><circle cx="614.6" cy="771.3" r="0.6" fill="#0c5c5e" opacity="0.7"/><circle cx="558.6" cy="740.9" r="0.8" fill="#6fd8d8" opacity="0.7"/><circle cx="572.6" cy="759.9" r="0.6" fill="#0c5c5e" opacity="0.7"/><circle cx="723.2" cy="733.6" r="0.8" fill="#0c5c5e" opacity="0.7"/><circle cx="726.8" cy="740.0" r="0.8" fill="#0c5c5e" opacity="0.7"/><circle cx="671.3" cy="733.4" r="0.6" fill="#0c5c5e" opacity="0.7"/><circle cx="704.7" cy="739.8" r="0.8" fill="#0c5c5e" opacity="0.7"/><circle cx="568.6" cy="757.3" r="0.6" fill="#6fd8d8" opacity="0.7"/><circle cx="656.4" cy="775.5" r="0.6" fill="#0c5c5e" opacity="0.7"/><circle cx="558.2" cy="765.2" r="0.6" fill="#0c5c5e" opacity="0.7"/><circle cx="606.2" cy="788.8" r="0.8" fill="#0c5c5e" opacity="0.7"/><circle cx="577.5" cy="791.8" r="0.6" fill="#6fd8d8" opacity="0.7"/><circle cx="536.9" cy="767.3" r="0.6" fill="#0c5c5e" opacity="0.7"/><circle cx="578.9" cy="774.1" r="0.6" fill="#0c5c5e" opacity="0.7"/><circle cx="697.8" cy="789.0" r="0.6" fill="#0c5c5e" opacity="0.7"/><circle cx="587.1" cy="734.1" r="0.8" fill="#0c5c5e" opacity="0.7"/><circle cx="556.7" cy="780.2" r="0.6" fill="#0c5c5e" opacity="0.7"/><circle cx="546.8" cy="744.3" r="0.8" fill="#0c5c5e" opacity="0.7"/><circle cx="608.7" cy="761.4" r="0.6" fill="#0c5c5e" opacity="0.7"/><circle cx="547.1" cy="754.7" r="0.6" fill="#6fd8d8" opacity="0.7"/><circle cx="659.0" cy="753.5" r="0.8" fill="#0c5c5e" opacity="0.7"/><circle cx="504.3" cy="742.3" r="0.8" fill="#0c5c5e" opacity="0.7"/><circle cx="590.4" cy="788.3" r="0.6" fill="#0c5c5e" opacity="0.7"/><circle cx="523.8" cy="734.5" r="0.8" fill="#6fd8d8" opacity="0.7"/><circle cx="676.1" cy="775.9" r="0.6" fill="#6fd8d8" opacity="0.7"/><circle cx="729.5" cy="783.0" r="0.8" fill="#6fd8d8" opacity="0.7"/><circle cx="696.5" cy="754.6" r="0.8" fill="#0c5c5e" opacity="0.7"/><circle cx="653.9" cy="749.7" r="0.6" fill="#0c5c5e" opacity="0.7"/><circle cx="509.4" cy="740.4" r="0.6" fill="#6fd8d8" opacity="0.7"/><circle cx="548.0" cy="756.5" r="0.8" fill="#0c5c5e" opacity="0.7"/><circle cx="659.6" cy="763.1" r="0.8" fill="#0c5c5e" opacity="0.7"/><circle cx="666.9" cy="772.3" r="0.6" fill="#6fd8d8" opacity="0.7"/><circle cx="692.0" cy="764.2" r="0.8" fill="#0c5c5e" opacity="0.7"/><circle cx="531.4" cy="763.0" r="0.8" fill="#6fd8d8" opacity="0.7"/><circle cx="523.6" cy="754.0" r="0.6" fill="#6fd8d8" opacity="0.7"/><circle cx="509.4" cy="732.5" r="0.8" fill="#0c5c5e" opacity="0.7"/><circle cx="502.6" cy="778.2" r="0.8" fill="#0c5c5e" opacity="0.7"/><circle cx="654.2" cy="788.0" r="0.6" fill="#0c5c5e" opacity="0.7"/><circle cx="658.5" cy="772.3" r="0.8" fill="#6fd8d8" opacity="0.7"/><circle cx="680.2" cy="747.1" r="0.8" fill="#6fd8d8" opacity="0.7"/><circle cx="590.3" cy="734.7" r="0.8" fill="#0c5c5e" opacity="0.7"/><circle cx="565.4" cy="774.6" r="0.6" fill="#6fd8d8" opacity="0.7"/><circle cx="712.9" cy="743.5" r="0.6" fill="#0c5c5e" opacity="0.7"/><circle cx="653.0" cy="745.9" r="0.6" fill="#0c5c5e" opacity="0.7"/><circle cx="578.6" cy="757.2" r="0.6" fill="#0c5c5e" opacity="0.7"/><circle cx="634.0" cy="774.5" r="0.8" fill="#0c5c5e" opacity="0.7"/><circle cx="710.3" cy="787.0" r="0.6" fill="#0c5c5e" opacity="0.7"/><circle cx="709.2" cy="787.6" r="0.8" fill="#6fd8d8" opacity="0.7"/><circle cx="586.8" cy="783.5" r="0.8" fill="#0c5c5e" opacity="0.7"/><circle cx="665.4" cy="785.9" r="0.6" fill="#6fd8d8" opacity="0.7"/><circle cx="508.1" cy="751.1" r="0.8" fill="#0c5c5e" opacity="0.7"/><circle cx="568.4" cy="781.5" r="0.6" fill="#0c5c5e" opacity="0.7"/><circle cx="607.9" cy="769.1" r="0.8" fill="#6fd8d8" opacity="0.7"/><circle cx="632.5" cy="789.4" r="0.6" fill="#0c5c5e" opacity="0.7"/><circle cx="511.0" cy="764.7" r="0.8" fill="#6fd8d8" opacity="0.7"/><circle cx="563.5" cy="782.4" r="0.8" fill="#0c5c5e" opacity="0.7"/><circle cx="722.3" cy="754.9" r="0.6" fill="#0c5c5e" opacity="0.7"/><circle cx="616.6" cy="750.1" r="0.8" fill="#0c5c5e" opacity="0.7"/><circle cx="724.7" cy="740.3" r="0.6" fill="#0c5c5e" opacity="0.7"/><circle cx="552.6" cy="773.2" r="0.6" fill="#0c5c5e" opacity="0.7"/><circle cx="500.2" cy="764.7" r="0.8" fill="#6fd8d8" opacity="0.7"/><circle cx="555.0" cy="761.6" r="0.6" fill="#0c5c5e" opacity="0.7"/><circle cx="689.4" cy="785.8" r="0.8" fill="#0c5c5e" opacity="0.7"/><circle cx="579.7" cy="786.0" r="0.8" fill="#0c5c5e" opacity="0.7"/><circle cx="547.8" cy="755.6" r="0.6" fill="#6fd8d8" opacity="0.7"/><circle cx="689.6" cy="740.9" r="0.8" fill="#0c5c5e" opacity="0.7"/><circle cx="567.5" cy="756.7" r="0.8" fill="#0c5c5e" opacity="0.7"/><circle cx="653.6" cy="761.9" r="0.6" fill="#0c5c5e" opacity="0.7"/><circle cx="574.7" cy="742.0" r="0.6" fill="#6fd8d8" opacity="0.7"/><circle cx="727.5" cy="781.7" r="0.8" fill="#6fd8d8" opacity="0.7"/><circle cx="695.3" cy="762.8" r="0.8" fill="#6fd8d8" opacity="0.7"/><circle cx="537.4" cy="784.7" r="0.8" fill="#6fd8d8" opacity="0.7"/><circle cx="579.3" cy="755.6" r="0.8" fill="#0c5c5e" opacity="0.7"/><circle cx="664.7" cy="746.6" r="0.8" fill="#6fd8d8" opacity="0.7"/><circle cx="576.8" cy="778.1" r="0.6" fill="#0c5c5e" opacity="0.7"/><circle cx="726.2" cy="770.8" r="0.6" fill="#0c5c5e" opacity="0.7"/><circle cx="670.3" cy="747.7" r="0.6" fill="#6fd8d8" opacity="0.7"/><circle cx="546.2" cy="769.5" r="0.8" fill="#6fd8d8" opacity="0.7"/><circle cx="650.0" cy="791.4" r="0.8" fill="#0c5c5e" opacity="0.7"/><circle cx="659.6" cy="780.0" r="0.6" fill="#0c5c5e" opacity="0.7"/><circle cx="658.1" cy="757.0" r="0.8" fill="#0c5c5e" opacity="0.7"/><circle cx="714.7" cy="792.3" r="0.6" fill="#6fd8d8" opacity="0.7"/><circle cx="664.1" cy="738.3" r="0.6" fill="#6fd8d8" opacity="0.7"/><circle cx="565.8" cy="776.3" r="0.6" fill="#0c5c5e" opacity="0.7"/><circle cx="575.9" cy="732.6" r="0.8" fill="#6fd8d8" opacity="0.7"/><circle cx="585.9" cy="750.2" r="0.8" fill="#6fd8d8" opacity="0.7"/><circle cx="590.1" cy="769.3" r="0.6" fill="#0c5c5e" opacity="0.7"/><circle cx="589.5" cy="774.0" r="0.8" fill="#6fd8d8" opacity="0.7"/><circle cx="601.7" cy="782.7" r="0.8" fill="#0c5c5e" opacity="0.7"/><circle cx="599.5" cy="740.4" r="0.6" fill="#0c5c5e" opacity="0.7"/><circle cx="630.2" cy="739.9" r="0.8" fill="#0c5c5e" opacity="0.7"/><circle cx="574.1" cy="736.0" r="0.6" fill="#0c5c5e" opacity="0.7"/><circle cx="626.8" cy="765.7" r="0.6" fill="#6fd8d8" opacity="0.7"/><circle cx="501.6" cy="778.2" r="0.6" fill="#6fd8d8" opacity="0.7"/><circle cx="542.0" cy="761.0" r="0.6" fill="#0c5c5e" opacity="0.7"/><circle cx="611.4" cy="756.7" r="0.8" fill="#0c5c5e" opacity="0.7"/><circle cx="513.3" cy="765.1" r="0.8" fill="#0c5c5e" opacity="0.7"/><circle cx="543.4" cy="749.0" r="0.6" fill="#0c5c5e" opacity="0.7"/><circle cx="631.4" cy="789.3" r="0.6" fill="#6fd8d8" opacity="0.7"/><circle cx="697.2" cy="789.6" r="0.6" fill="#0c5c5e" opacity="0.7"/><circle cx="517.2" cy="753.3" r="0.8" fill="#6fd8d8" opacity="0.7"/><circle cx="618.3" cy="731.6" r="0.6" fill="#6fd8d8" opacity="0.7"/><circle cx="720.6" cy="731.7" r="0.8" fill="#6fd8d8" opacity="0.7"/><circle cx="682.2" cy="776.6" r="0.8" fill="#0c5c5e" opacity="0.7"/><circle cx="684.7" cy="782.3" r="0.6" fill="#0c5c5e" opacity="0.7"/><circle cx="592.5" cy="774.7" r="0.8" fill="#0c5c5e" opacity="0.7"/><circle cx="505.4" cy="766.8" r="0.6" fill="#0c5c5e" opacity="0.7"/><circle cx="589.3" cy="753.9" r="0.8" fill="#0c5c5e" opacity="0.7"/><circle cx="644.2" cy="758.9" r="0.8" fill="#0c5c5e" opacity="0.7"/><circle cx="515.3" cy="771.5" r="0.6" fill="#0c5c5e" opacity="0.7"/><circle cx="577.0" cy="777.0" r="0.6" fill="#6fd8d8" opacity="0.7"/><circle cx="670.9" cy="764.9" r="0.6" fill="#6fd8d8" opacity="0.7"/><circle cx="579.9" cy="740.6" r="0.8" fill="#0c5c5e" opacity="0.7"/><circle cx="541.9" cy="732.4" r="0.8" fill="#0c5c5e" opacity="0.7"/><circle cx="512.0" cy="736.9" r="0.6" fill="#6fd8d8" opacity="0.7"/><circle cx="702.5" cy="750.9" r="0.6" fill="#0c5c5e" opacity="0.7"/><circle cx="727.1" cy="757.7" r="0.6" fill="#0c5c5e" opacity="0.7"/><circle cx="593.9" cy="774.8" r="0.6" fill="#0c5c5e" opacity="0.7"/><circle cx="516.1" cy="755.2" r="0.8" fill="#6fd8d8" opacity="0.7"/><circle cx="678.9" cy="763.6" r="0.6" fill="#6fd8d8" opacity="0.7"/><circle cx="667.9" cy="772.1" r="0.6" fill="#6fd8d8" opacity="0.7"/><circle cx="641.8" cy="752.4" r="0.8" fill="#0c5c5e" opacity="0.7"/><circle cx="644.6" cy="762.3" r="0.6" fill="#6fd8d8" opacity="0.7"/><circle cx="692.6" cy="773.8" r="0.8" fill="#0c5c5e" opacity="0.7"/><circle cx="653.1" cy="757.0" r="0.8" fill="#0c5c5e" opacity="0.7"/><circle cx="552.9" cy="768.2" r="0.6" fill="#0c5c5e" opacity="0.7"/><circle cx="711.6" cy="763.7" r="0.8" fill="#0c5c5e" opacity="0.7"/><circle cx="565.4" cy="733.9" r="0.6" fill="#0c5c5e" opacity="0.7"/><circle cx="534.9" cy="760.1" r="0.8" fill="#0c5c5e" opacity="0.7"/><circle cx="643.3" cy="742.7" r="0.8" fill="#0c5c5e" opacity="0.7"/><circle cx="592.5" cy="784.8" r="0.6" fill="#0c5c5e" opacity="0.7"/><circle cx="525.5" cy="742.6" r="0.6" fill="#6fd8d8" opacity="0.7"/><circle cx="683.5" cy="762.7" r="0.8" fill="#6fd8d8" opacity="0.7"/><circle cx="542.5" cy="733.4" r="0.8" fill="#0c5c5e" opacity="0.7"/><circle cx="619.1" cy="752.6" r="0.6" fill="#0c5c5e" opacity="0.7"/><circle cx="503.3" cy="757.5" r="0.8" fill="#0c5c5e" opacity="0.7"/><circle cx="721.2" cy="745.8" r="0.6" fill="#0c5c5e" opacity="0.7"/><circle cx="601.3" cy="777.9" r="0.6" fill="#6fd8d8" opacity="0.7"/><circle cx="684.0" cy="784.0" r="0.6" fill="#6fd8d8" opacity="0.7"/><circle cx="686.7" cy="742.1" r="0.8" fill="#6fd8d8" opacity="0.7"/><circle cx="713.6" cy="790.2" r="0.6" fill="#0c5c5e" opacity="0.7"/><circle cx="527.0" cy="742.3" r="0.8" fill="#6fd8d8" opacity="0.7"/><circle cx="695.3" cy="769.3" r="0.8" fill="#6fd8d8" opacity="0.7"/><circle cx="520.3" cy="771.2" r="0.8" fill="#0c5c5e" opacity="0.7"/><circle cx="723.1" cy="765.7" r="0.8" fill="#0c5c5e" opacity="0.7"/><circle cx="503.5" cy="752.1" r="0.8" fill="#0c5c5e" opacity="0.7"/><circle cx="717.6" cy="771.8" r="0.6" fill="#0c5c5e" opacity="0.7"/><circle cx="548.2" cy="778.5" r="0.6" fill="#0c5c5e" opacity="0.7"/><circle cx="633.5" cy="733.6" r="0.8" fill="#6fd8d8" opacity="0.7"/><circle cx="559.5" cy="752.3" r="0.8" fill="#0c5c5e" opacity="0.7"/><circle cx="545.1" cy="792.7" r="0.6" fill="#0c5c5e" opacity="0.7"/><circle cx="665.1" cy="785.0" r="0.8" fill="#6fd8d8" opacity="0.7"/><circle cx="533.6" cy="770.1" r="0.8" fill="#0c5c5e" opacity="0.7"/><circle cx="688.6" cy="756.4" r="0.8" fill="#6fd8d8" opacity="0.7"/><circle cx="616.5" cy="789.4" r="0.8" fill="#0c5c5e" opacity="0.7"/><circle cx="661.8" cy="745.6" r="0.6" fill="#0c5c5e" opacity="0.7"/><circle cx="528.3" cy="785.4" r="0.6" fill="#0c5c5e" opacity="0.7"/><circle cx="649.1" cy="745.0" r="0.8" fill="#0c5c5e" opacity="0.7"/><circle cx="545.7" cy="756.7" r="0.6" fill="#0c5c5e" opacity="0.7"/><circle cx="647.1" cy="753.8" r="0.8" fill="#0c5c5e" opacity="0.7"/><circle cx="634.4" cy="771.8" r="0.8" fill="#0c5c5e" opacity="0.7"/><circle cx="652.2" cy="731.8" r="0.6" fill="#6fd8d8" opacity="0.7"/><circle cx="594.7" cy="739.2" r="0.8" fill="#0c5c5e" opacity="0.7"/><circle cx="596.7" cy="752.2" r="0.6" fill="#0c5c5e" opacity="0.7"/><circle cx="651.2" cy="759.1" r="0.6" fill="#6fd8d8" opacity="0.7"/><circle cx="681.7" cy="732.0" r="0.6" fill="#0c5c5e" opacity="0.7"/><circle cx="635.8" cy="774.2" r="0.6" fill="#0c5c5e" opacity="0.7"/><circle cx="645.6" cy="760.1" r="0.8" fill="#6fd8d8" opacity="0.7"/><circle cx="606.9" cy="750.6" r="0.6" fill="#6fd8d8" opacity="0.7"/><circle cx="724.6" cy="792.5" r="0.8" fill="#0c5c5e" opacity="0.7"/><circle cx="690.6" cy="771.3" r="0.6" fill="#6fd8d8" opacity="0.7"/><circle cx="515.3" cy="759.7" r="0.8" fill="#0c5c5e" opacity="0.7"/><circle cx="714.4" cy="763.1" r="0.6" fill="#0c5c5e" opacity="0.7"/><circle cx="585.1" cy="739.9" r="0.8" fill="#6fd8d8" opacity="0.7"/><circle cx="670.6" cy="736.2" r="0.6" fill="#0c5c5e" opacity="0.7"/><circle cx="660.1" cy="779.8" r="0.8" fill="#0c5c5e" opacity="0.7"/><circle cx="686.6" cy="776.3" r="0.6" fill="#0c5c5e" opacity="0.7"/><circle cx="607.8" cy="732.0" r="0.8" fill="#6fd8d8" opacity="0.7"/><circle cx="525.0" cy="756.6" r="0.6" fill="#6fd8d8" opacity="0.7"/><circle cx="569.4" cy="762.5" r="0.6" fill="#6fd8d8" opacity="0.7"/><circle cx="630.6" cy="796.1" r="0.6" fill="#0c5c5e" opacity="0.7"/><circle cx="617.8" cy="798.7" r="0.6" fill="#6fd8d8" opacity="0.7"/><circle cx="635.9" cy="801.5" r="0.6" fill="#0c5c5e" opacity="0.7"/><circle cx="603.9" cy="802.9" r="0.8" fill="#6fd8d8" opacity="0.7"/><circle cx="695.7" cy="795.7" r="0.6" fill="#6fd8d8" opacity="0.7"/><circle cx="723.2" cy="802.4" r="0.8" fill="#0c5c5e" opacity="0.7"/><circle cx="640.8" cy="807.8" r="0.6" fill="#0c5c5e" opacity="0.7"/><circle cx="689.1" cy="797.7" r="0.6" fill="#0c5c5e" opacity="0.7"/><circle cx="669.6" cy="800.0" r="0.8" fill="#0c5c5e" opacity="0.7"/><circle cx="642.3" cy="800.5" r="0.8" fill="#0c5c5e" opacity="0.7"/><circle cx="709.8" cy="802.7" r="0.6" fill="#0c5c5e" opacity="0.7"/><circle cx="595.7" cy="795.3" r="0.8" fill="#0c5c5e" opacity="0.7"/><circle cx="525.7" cy="808.7" r="0.8" fill="#0c5c5e" opacity="0.7"/><circle cx="546.8" cy="809.9" r="0.6" fill="#0c5c5e" opacity="0.7"/><circle cx="725.8" cy="808.8" r="0.6" fill="#0c5c5e" opacity="0.7"/><circle cx="643.9" cy="798.3" r="0.8" fill="#6fd8d8" opacity="0.7"/><circle cx="584.6" cy="800.9" r="0.8" fill="#0c5c5e" opacity="0.7"/><circle cx="582.5" cy="800.9" r="0.8" fill="#6fd8d8" opacity="0.7"/><circle cx="511.4" cy="807.4" r="0.6" fill="#6fd8d8" opacity="0.7"/><circle cx="621.4" cy="802.8" r="0.8" fill="#6fd8d8" opacity="0.7"/><circle cx="655.3" cy="805.4" r="0.6" fill="#0c5c5e" opacity="0.7"/><circle cx="582.7" cy="809.2" r="0.8" fill="#0c5c5e" opacity="0.7"/><circle cx="502.1" cy="800.5" r="0.6" fill="#6fd8d8" opacity="0.7"/><circle cx="658.1" cy="799.7" r="0.6" fill="#0c5c5e" opacity="0.7"/><circle cx="721.6" cy="805.1" r="0.8" fill="#6fd8d8" opacity="0.7"/><circle cx="640.1" cy="803.4" r="0.8" fill="#6fd8d8" opacity="0.7"/><circle cx="614.5" cy="802.3" r="0.8" fill="#6fd8d8" opacity="0.7"/><circle cx="696.8" cy="797.4" r="0.8" fill="#0c5c5e" opacity="0.7"/><circle cx="648.9" cy="800.0" r="0.6" fill="#0c5c5e" opacity="0.7"/><circle cx="631.6" cy="795.6" r="0.8" fill="#6fd8d8" opacity="0.7"/><circle cx="691.3" cy="799.3" r="0.8" fill="#6fd8d8" opacity="0.7"/><circle cx="688.5" cy="806.6" r="0.8" fill="#6fd8d8" opacity="0.7"/><circle cx="729.9" cy="801.8" r="0.8" fill="#0c5c5e" opacity="0.7"/><circle cx="519.3" cy="796.2" r="0.8" fill="#0c5c5e" opacity="0.7"/><circle cx="665.1" cy="803.9" r="0.6" fill="#0c5c5e" opacity="0.7"/><circle cx="625.8" cy="807.2" r="0.8" fill="#0c5c5e" opacity="0.7"/><circle cx="577.2" cy="804.0" r="0.6" fill="#6fd8d8" opacity="0.7"/><circle cx="679.7" cy="801.0" r="0.6" fill="#0c5c5e" opacity="0.7"/><circle cx="674.1" cy="804.8" r="0.6" fill="#0c5c5e" opacity="0.7"/><circle cx="573.6" cy="805.8" r="0.6" fill="#6fd8d8" opacity="0.7"/><circle cx="720.0" cy="799.7" r="0.6" fill="#0c5c5e" opacity="0.7"/><circle cx="527.2" cy="799.0" r="0.6" fill="#6fd8d8" opacity="0.7"/><circle cx="522.3" cy="799.2" r="0.6" fill="#6fd8d8" opacity="0.7"/><circle cx="535.7" cy="798.4" r="0.8" fill="#6fd8d8" opacity="0.7"/><circle cx="706.2" cy="808.9" r="0.6" fill="#0c5c5e" opacity="0.7"/><circle cx="661.7" cy="801.9" r="0.8" fill="#0c5c5e" opacity="0.7"/><circle cx="683.7" cy="802.2" r="0.8" fill="#6fd8d8" opacity="0.7"/><circle cx="626.4" cy="807.7" r="0.8" fill="#6fd8d8" opacity="0.7"/><circle cx="503.4" cy="807.2" r="0.8" fill="#0c5c5e" opacity="0.7"/><circle cx="636.0" cy="802.3" r="0.8" fill="#0c5c5e" opacity="0.7"/><circle cx="632.1" cy="807.5" r="0.8" fill="#0c5c5e" opacity="0.7"/><circle cx="534.0" cy="805.3" r="0.8" fill="#0c5c5e" opacity="0.7"/><circle cx="520.8" cy="801.8" r="0.8" fill="#0c5c5e" opacity="0.7"/><circle cx="668.0" cy="803.2" r="0.8" fill="#6fd8d8" opacity="0.7"/><circle cx="684.6" cy="798.1" r="0.6" fill="#0c5c5e" opacity="0.7"/><circle cx="549.1" cy="808.5" r="0.6" fill="#0c5c5e" opacity="0.7"/><circle cx="541.3" cy="800.6" r="0.8" fill="#0c5c5e" opacity="0.7"/><circle cx="612.0" cy="797.7" r="0.6" fill="#0c5c5e" opacity="0.7"/><circle cx="570.5" cy="807.6" r="0.6" fill="#0c5c5e" opacity="0.7"/><circle cx="580.9" cy="796.6" r="0.8" fill="#0c5c5e" opacity="0.7"/><circle cx="612.6" cy="801.1" r="0.8" fill="#0c5c5e" opacity="0.7"/><circle cx="469.3" cy="728.0" r="0.6" fill="#6fd8d8" opacity="0.7"/><circle cx="495.3" cy="727.3" r="0.8" fill="#6fd8d8" opacity="0.7"/><circle cx="471.5" cy="719.7" r="0.6" fill="#0c5c5e" opacity="0.7"/><circle cx="489.4" cy="722.1" r="0.8" fill="#0c5c5e" opacity="0.7"/><circle cx="495.2" cy="727.2" r="0.8" fill="#6fd8d8" opacity="0.7"/><circle cx="474.5" cy="717.3" r="0.8" fill="#0c5c5e" opacity="0.7"/><circle cx="476.0" cy="720.5" r="0.6" fill="#0c5c5e" opacity="0.7"/></g><g id="trdet"><rect x="1072.0" y="241.8" width="7" height="3.5" fill="#15191a"/><rect x="1091.0" y="241.8" width="7" height="3.5" fill="#15191a"/><rect x="1110.0" y="241.8" width="7" height="3.5" fill="#15191a"/><rect x="1119.5" y="241.8" width="7" height="3.5" fill="#15191a"/><rect x="1138.5" y="241.8" width="7" height="3.5" fill="#15191a"/><rect x="1157.5" y="241.8" width="7" height="3.5" fill="#15191a"/><rect x="1186.0" y="241.8" width="7" height="3.5" fill="#15191a"/><rect x="1195.5" y="241.8" width="7" height="3.5" fill="#15191a"/><rect x="1081.6" y="248.2" width="3.2" height="6.5" rx="1.5" fill="#f1eedc"/><rect x="1087.8" y="248.2" width="3.2" height="6.5" rx="1.5" fill="#f1eedc"/><rect x="1094.0" y="248.2" width="3.2" height="6.5" rx="1.5" fill="#f1eedc"/><rect x="1106.4" y="248.2" width="3.2" height="6.5" rx="1.5" fill="#f1eedc"/><rect x="1125.0" y="248.2" width="3.2" height="6.5" rx="1.5" fill="#f1eedc"/><rect x="1131.2" y="248.2" width="3.2" height="6.5" rx="1.5" fill="#f1eedc"/><rect x="1137.4" y="248.2" width="3.2" height="6.5" rx="1.5" fill="#f1eedc"/><rect x="1143.6" y="248.2" width="3.2" height="6.5" rx="1.5" fill="#f0d860"/><rect x="1156.0" y="248.2" width="3.2" height="6.5" rx="1.5" fill="#f1eedc"/><rect x="1162.2" y="248.2" width="3.2" height="6.5" rx="1.5" fill="#f1eedc"/><rect x="1168.4" y="248.2" width="3.2" height="6.5" rx="1.5" fill="#f1eedc"/><rect x="1174.6" y="248.2" width="3.2" height="6.5" rx="1.5" fill="#f1eedc"/><rect x="1180.8" y="248.2" width="3.2" height="6.5" rx="1.5" fill="#f0d860"/><rect x="1187.0" y="248.2" width="3.2" height="6.5" rx="1.5" fill="#f1eedc"/><rect x="1072.0" y="256.2" width="6" height="3.5" fill="#15191a"/><rect x="1082.0" y="256.2" width="6" height="3.5" fill="#15191a"/><rect x="1092.0" y="256.2" width="6" height="3.5" fill="#15191a"/><rect x="1102.0" y="256.2" width="6" height="3.5" fill="#15191a"/><rect x="1122.0" y="256.2" width="6" height="3.5" fill="#15191a"/><rect x="1132.0" y="256.2" width="6" height="3.5" fill="#15191a"/><rect x="1152.0" y="256.2" width="6" height="3.5" fill="#15191a"/><rect x="1172.0" y="256.2" width="6" height="3.5" fill="#15191a"/><rect x="1182.0" y="256.2" width="6" height="3.5" fill="#15191a"/><rect x="1192.0" y="256.2" width="6" height="3.5" fill="#15191a"/><rect x="1082.4" y="262.2" width="3.2" height="6.5" rx="1.5" fill="#f1eedc"/><rect x="1088.9" y="262.2" width="3.2" height="6.5" rx="1.5" fill="#f1eedc"/><rect x="1095.4" y="262.2" width="3.2" height="6.5" rx="1.5" fill="#f1eedc"/><rect x="1101.9" y="262.2" width="3.2" height="6.5" rx="1.5" fill="#f1eedc"/><rect x="1108.4" y="262.2" width="3.2" height="6.5" rx="1.5" fill="#f1eedc"/><rect x="1121.4" y="262.2" width="3.2" height="6.5" rx="1.5" fill="#f1eedc"/><rect x="1127.9" y="262.2" width="3.2" height="6.5" rx="1.5" fill="#f1eedc"/><rect x="1140.9" y="262.2" width="3.2" height="6.5" rx="1.5" fill="#f1eedc"/><rect x="1153.9" y="262.2" width="3.2" height="6.5" rx="1.5" fill="#f0d860"/><rect x="1173.4" y="262.2" width="3.2" height="6.5" rx="1.5" fill="#f0d860"/><rect x="1186.4" y="262.2" width="3.2" height="6.5" rx="1.5" fill="#f1eedc"/><rect x="1079.0" y="270.2" width="7" height="3.5" fill="#15191a"/><rect x="1088.0" y="270.2" width="7" height="3.5" fill="#15191a"/><rect x="1097.0" y="270.2" width="7" height="3.5" fill="#15191a"/><rect x="1106.0" y="270.2" width="7" height="3.5" fill="#15191a"/><rect x="1115.0" y="270.2" width="7" height="3.5" fill="#15191a"/><rect x="1124.0" y="270.2" width="7" height="3.5" fill="#15191a"/><rect x="1133.0" y="270.2" width="7" height="3.5" fill="#15191a"/><rect x="1142.0" y="270.2" width="7" height="3.5" fill="#15191a"/><rect x="1151.0" y="270.2" width="7" height="3.5" fill="#15191a"/><rect x="1160.0" y="270.2" width="7" height="3.5" fill="#15191a"/><rect x="1187.0" y="270.2" width="7" height="3.5" fill="#15191a"/><rect x="1196.0" y="270.2" width="7" height="3.5" fill="#15191a"/><rect x="1071.4" y="275.8" width="3.2" height="6.5" rx="1.5" fill="#f1eedc"/><rect x="1078.4" y="275.8" width="3.2" height="6.5" rx="1.5" fill="#f0d860"/><rect x="1085.4" y="275.8" width="3.2" height="6.5" rx="1.5" fill="#f1eedc"/><rect x="1092.4" y="275.8" width="3.2" height="6.5" rx="1.5" fill="#f1eedc"/><rect x="1099.4" y="275.8" width="3.2" height="6.5" rx="1.5" fill="#f1eedc"/><rect x="1106.4" y="275.8" width="3.2" height="6.5" rx="1.5" fill="#f1eedc"/><rect x="1120.4" y="275.8" width="3.2" height="6.5" rx="1.5" fill="#f1eedc"/><rect x="1127.4" y="275.8" width="3.2" height="6.5" rx="1.5" fill="#f1eedc"/><rect x="1134.4" y="275.8" width="3.2" height="6.5" rx="1.5" fill="#f1eedc"/><rect x="1148.4" y="275.8" width="3.2" height="6.5" rx="1.5" fill="#f0d860"/><rect x="1176.4" y="275.8" width="3.2" height="6.5" rx="1.5" fill="#f0d860"/><rect x="1203.4" y="258.8" width="3.2" height="6.5" rx="1.5" fill="#f0d860"/><rect x="1209.4" y="258.8" width="3.2" height="6.5" rx="1.5" fill="#f1eedc"/><rect x="1221.4" y="258.8" width="3.2" height="6.5" rx="1.5" fill="#f1eedc"/><rect x="1203.4" y="276.8" width="3.2" height="6.5" rx="1.5" fill="#f0d860"/><rect x="1209.4" y="276.8" width="3.2" height="6.5" rx="1.5" fill="#f1eedc"/><rect x="1215.4" y="276.8" width="3.2" height="6.5" rx="1.5" fill="#f1eedc"/><rect x="1209.0" y="250.2" width="7" height="3.5" fill="#15191a"/><rect x="1218.0" y="250.2" width="7" height="3.5" fill="#15191a"/><rect x="1227.0" y="250.2" width="7" height="3.5" fill="#15191a"/><rect x="1218.0" y="269.2" width="7" height="3.5" fill="#15191a"/><rect x="1227.0" y="269.2" width="7" height="3.5" fill="#15191a"/><rect x="1126" y="263" width="5" height="7" fill="#e04a30"/><rect x="1145" y="276" width="5" height="6" fill="#e86a28"/><rect x="1152" y="276" width="5" height="6" fill="#e86a28"/><rect x="1219" y="262" width="5" height="6" fill="#e86a28"/><rect x="1221" y="279" width="5" height="6" fill="#e86a28"/><path d="M1155,257 L1183,257 L1183,276" stroke="#d8b030" stroke-width="1" fill="none"/><circle cx="1110" cy="296" r="6.5" fill="#151515"/><circle cx="1200" cy="246" r="5" fill="#d8d8d0"/><circle cx="1248" cy="251" r="7.5" fill="#141414"/><circle cx="1248" cy="251" r="5" fill="none" stroke="#ddd" stroke-width="1" stroke-dasharray="1 2"/><circle cx="1248" cy="268" r="7.5" fill="#141414"/><circle cx="1248" cy="268" r="5" fill="none" stroke="#ddd" stroke-width="1" stroke-dasharray="1 2"/><rect x="1240" y="292" width="12" height="7" fill="#b03a2a"/><rect x="1274" y="266" width="22" height="40" fill="#2a2e2f"/><path d="M1290,258 C1284,262 1280,270 1284,276 C1288,282 1296,278 1294,270" stroke="#e8e8e8" stroke-width="2.5" fill="none"/><rect x="1277.8" y="290.0" width="2.5" height="4" rx="1.5" fill="#f0d860"/><rect x="1282.8" y="290.0" width="2.5" height="4" rx="1.5" fill="#e0e0e0"/><rect x="1287.8" y="290.0" width="2.5" height="4" rx="1.5" fill="#e0e0e0"/><rect x="1292.8" y="290.0" width="2.5" height="4" rx="1.5" fill="#e0e0e0"/><rect x="1272" y="248" width="6" height="5" fill="#c03020"/><ellipse cx="1080" cy="312" rx="7" ry="4" fill="#d9773a"/><rect x="1114" y="308" width="7" height="9" fill="#e8e6e0"/><circle cx="1129" cy="316" r="4" fill="#e06050"/><rect x="1141.5" y="310.0" width="3" height="8" rx="1.5" fill="#e6e6e6"/><rect x="1147.5" y="310.0" width="3" height="8" rx="1.5" fill="#e6e6e6"/><rect x="1153.5" y="310.0" width="3" height="8" rx="1.5" fill="#f0d860"/><rect x="1159.5" y="310.0" width="3" height="8" rx="1.5" fill="#e6e6e6"/><rect x="1165.5" y="310.0" width="3" height="8" rx="1.5" fill="#e6e6e6"/><circle cx="1261" cy="310" r="4.5" fill="#f08a30"/><path d="M1262,313 L1270,326" stroke="#9ab4c8" stroke-width="3"/><circle cx="1186" cy="292" r="10" fill="#66656c"/><path d="M1125,213 L1140,205 L1150,218 L1140,230 Z" fill="#66656c"/><path d="M1200,236 C1210,228 1225,228 1240,232" stroke="#6a6970" stroke-width="6" fill="none"/><rect x="1270" y="217" width="14" height="15" fill="#6c6b72"/><rect x="1038" y="255" width="10" height="40" fill="#66656c"/><rect x="1047" y="256" width="9.5" height="39" fill="#2f3034"/><circle cx="1051.5" cy="262" r="1.6" fill="#e0e0e0"/><circle cx="1051.5" cy="270" r="1.6" fill="#e0e0e0"/><circle cx="1051.5" cy="277" r="1.6" fill="#e0e0e0"/><circle cx="1051.5" cy="285" r="1.6" fill="#e0e0e0"/><circle cx="1051.5" cy="291" r="1.4" fill="#9bd"/><path d="M1010,212 L1062,211" stroke="#6f6e76" stroke-width="3" stroke-dasharray="2 1.5"/></g>
<g id="bldet"><rect x="500.3" y="717.5" width="94.5" height="14" fill="#1b8e8e"/><rect x="468.8" y="733.3" width="30.6" height="52.5" rx="3" fill="#3c3d40"/><rect x="502.9" y="734" width="16.6" height="52.6" rx="3" fill="#2c2d30"/><rect x="521.3" y="735" width="46.3" height="52.5" rx="4" fill="#303134"/><ellipse cx="580" cy="775" rx="10" ry="12" fill="#2e3033"/><circle cx="477.3" cy="769.6" r="1.3" fill="#b0b0b0"/><circle cx="492.6" cy="771.2" r="1.3" fill="#b0b0b0"/><circle cx="472.3" cy="740.1" r="1" fill="#c05040"/><circle cx="479.5" cy="759.1" r="1.3" fill="#e8e8e8"/><circle cx="495.5" cy="752.2" r="1.6" fill="#e8e8e8"/><circle cx="473.4" cy="754.4" r="1.3" fill="#cfcfcf"/><circle cx="494.9" cy="756.7" r="1" fill="#b0b0b0"/><circle cx="492.4" cy="783.6" r="1.3" fill="#c05040"/><circle cx="481.2" cy="782.3" r="1" fill="#cfcfcf"/><circle cx="497.8" cy="736.4" r="1.6" fill="#c05040"/><circle cx="474.1" cy="776.3" r="1.6" fill="#c05040"/><circle cx="496.2" cy="742.8" r="1" fill="#cfcfcf"/><circle cx="470.4" cy="783.5" r="1.6" fill="#e8e8e8"/><circle cx="491.0" cy="742.0" r="1" fill="#cfcfcf"/><circle cx="470.8" cy="745.6" r="1.6" fill="#cfcfcf"/><circle cx="479.1" cy="762.2" r="1" fill="#cfcfcf"/><circle cx="495.5" cy="752.7" r="1.6" fill="#c05040"/><circle cx="486.3" cy="780.2" r="1.6" fill="#c05040"/><circle cx="473.7" cy="742.6" r="1.3" fill="#e8e8e8"/><circle cx="491.7" cy="765.4" r="1" fill="#cfcfcf"/><circle cx="474.0" cy="766.0" r="1.6" fill="#e8e8e8"/><circle cx="471.7" cy="769.1" r="1" fill="#c05040"/><circle cx="494.7" cy="737.8" r="1.3" fill="#cfcfcf"/><circle cx="471.2" cy="739.9" r="1.6" fill="#c05040"/><circle cx="470.8" cy="779.7" r="1.3" fill="#e8e8e8"/><circle cx="479.1" cy="783.7" r="1.6" fill="#cfcfcf"/><circle cx="477.8" cy="760.4" r="1.6" fill="#c05040"/><circle cx="496.4" cy="770.0" r="1.6" fill="#b0b0b0"/><circle cx="495.0" cy="745.1" r="1" fill="#c05040"/><circle cx="481.7" cy="754.6" r="1" fill="#b0b0b0"/><circle cx="488.8" cy="756.4" r="1.6" fill="#cfcfcf"/><circle cx="478.5" cy="741.1" r="1.6" fill="#cfcfcf"/><circle cx="488.0" cy="753.3" r="1" fill="#b0b0b0"/><circle cx="497.1" cy="746.0" r="1.3" fill="#e8e8e8"/><circle cx="494.8" cy="743.1" r="1" fill="#cfcfcf"/><circle cx="489.8" cy="784.7" r="1.3" fill="#c05040"/><circle cx="481.8" cy="752.8" r="1.6" fill="#e8e8e8"/><circle cx="480.2" cy="751.9" r="1.3" fill="#c05040"/><circle cx="489.7" cy="754.2" r="1.6" fill="#b0b0b0"/><circle cx="496.9" cy="740.6" r="1" fill="#cfcfcf"/><circle cx="505.2" cy="749.6" r="1.3" fill="#cfcfcf"/><circle cx="514.6" cy="777.0" r="1.3" fill="#b0b0b0"/><circle cx="506.1" cy="782.0" r="1.6" fill="#c05040"/><circle cx="508.6" cy="750.0" r="1.3" fill="#cfcfcf"/><circle cx="516.5" cy="749.4" r="1.6" fill="#e8e8e8"/><circle cx="505.2" cy="749.0" r="1" fill="#cfcfcf"/><circle cx="507.7" cy="742.1" r="1.3" fill="#e8e8e8"/><circle cx="517.9" cy="756.9" r="1.6" fill="#b0b0b0"/><circle cx="505.8" cy="762.3" r="1" fill="#cfcfcf"/><circle cx="517.6" cy="749.1" r="1" fill="#cfcfcf"/><circle cx="517.1" cy="767.4" r="1.3" fill="#cfcfcf"/><circle cx="510.2" cy="769.6" r="1.3" fill="#b0b0b0"/><circle cx="515.3" cy="785.7" r="1" fill="#e8e8e8"/><circle cx="504.3" cy="761.3" r="1.6" fill="#cfcfcf"/><circle cx="510.6" cy="782.7" r="1.6" fill="#e8e8e8"/><circle cx="515.5" cy="757.6" r="1.6" fill="#c05040"/><circle cx="515.7" cy="755.7" r="1.6" fill="#b0b0b0"/><circle cx="507.0" cy="747.5" r="1.6" fill="#cfcfcf"/><circle cx="554.3" cy="743.7" r="1" fill="#b0b0b0"/><circle cx="559.0" cy="737.7" r="1.3" fill="#b0b0b0"/><circle cx="530.0" cy="741.1" r="1.6" fill="#c05040"/><circle cx="551.8" cy="750.5" r="1.6" fill="#cfcfcf"/><circle cx="535.6" cy="759.1" r="1.3" fill="#cfcfcf"/><circle cx="542.2" cy="749.6" r="1.6" fill="#b0b0b0"/><circle cx="536.9" cy="738.7" r="1" fill="#b0b0b0"/><circle cx="538.3" cy="737.1" r="1" fill="#c05040"/><circle cx="543.4" cy="761.1" r="1" fill="#cfcfcf"/><circle cx="544.7" cy="737.2" r="1" fill="#b0b0b0"/><circle cx="529.2" cy="765.2" r="1" fill="#c05040"/><circle cx="535.9" cy="767.2" r="1.6" fill="#e8e8e8"/><circle cx="564.2" cy="778.0" r="1.6" fill="#cfcfcf"/><circle cx="561.4" cy="774.6" r="1.3" fill="#c05040"/><circle cx="554.0" cy="760.7" r="1.6" fill="#b0b0b0"/><circle cx="549.6" cy="743.9" r="1.6" fill="#c05040"/><circle cx="553.1" cy="761.3" r="1.6" fill="#e8e8e8"/><circle cx="548.1" cy="779.9" r="1" fill="#cfcfcf"/><circle cx="524.3" cy="743.4" r="1" fill="#b0b0b0"/><circle cx="539.2" cy="758.7" r="1.6" fill="#e8e8e8"/><circle cx="523.8" cy="762.5" r="1.3" fill="#cfcfcf"/><circle cx="534.3" cy="758.9" r="1.6" fill="#e8e8e8"/><circle cx="563.1" cy="780.1" r="1.6" fill="#e8e8e8"/><circle cx="545.6" cy="772.8" r="1.3" fill="#c05040"/><circle cx="557.8" cy="777.6" r="1.6" fill="#cfcfcf"/><circle cx="555.5" cy="748.1" r="1.3" fill="#c05040"/><circle cx="559.4" cy="740.7" r="1" fill="#b0b0b0"/><circle cx="549.5" cy="767.9" r="1.6" fill="#e8e8e8"/><circle cx="529.3" cy="749.2" r="1.6" fill="#b0b0b0"/><circle cx="547.4" cy="737.6" r="1.3" fill="#e8e8e8"/><circle cx="534.6" cy="769.3" r="1.6" fill="#cfcfcf"/><circle cx="544.1" cy="771.0" r="1.3" fill="#b0b0b0"/><circle cx="543.0" cy="773.8" r="1.3" fill="#cfcfcf"/><circle cx="565.1" cy="781.9" r="1.3" fill="#e8e8e8"/><circle cx="542.7" cy="776.4" r="1.3" fill="#c05040"/><circle cx="539.6" cy="781.0" r="1" fill="#cfcfcf"/><circle cx="548.0" cy="743.8" r="1.3" fill="#b0b0b0"/><circle cx="528.7" cy="776.4" r="1" fill="#b0b0b0"/><circle cx="553.2" cy="748.1" r="1.3" fill="#c05040"/><circle cx="524.1" cy="737.2" r="1.6" fill="#c05040"/><circle cx="579.2" cy="771.0" r="1.3" fill="#cfcfcf"/><circle cx="577.5" cy="771.3" r="1" fill="#b0b0b0"/><circle cx="577.2" cy="771.8" r="1" fill="#c05040"/><circle cx="587.0" cy="768.9" r="1.6" fill="#e8e8e8"/><circle cx="576.6" cy="772.4" r="1.3" fill="#c05040"/><circle cx="588.0" cy="776.8" r="1.3" fill="#b0b0b0"/><circle cx="584.1" cy="782.1" r="1" fill="#b0b0b0"/><circle cx="572.8" cy="778.2" r="1" fill="#cfcfcf"/><circle cx="508" cy="724" r="4" fill="#2a2a2a"/><circle cx="530" cy="724" r="4" fill="#2a2a2a"/><circle cx="552" cy="724" r="4" fill="#2a2a2a"/><rect x="603" y="716" width="17" height="15" fill="#2a2a2a"/><circle cx="607.5" cy="725" r="3" fill="#e84a30"/><circle cx="615.5" cy="725" r="3" fill="#e84a30"/><rect x="596.4" y="743.2" width="3.2" height="6.5" rx="1.5" fill="#f1eedc"/><rect x="602.9" y="743.2" width="3.2" height="6.5" rx="1.5" fill="#f1eedc"/><rect x="609.4" y="743.2" width="3.2" height="6.5" rx="1.5" fill="#f1eedc"/><rect x="622.4" y="743.2" width="3.2" height="6.5" rx="1.5" fill="#f1eedc"/><rect x="628.9" y="743.2" width="3.2" height="6.5" rx="1.5" fill="#f1eedc"/><rect x="635.4" y="743.2" width="3.2" height="6.5" rx="1.5" fill="#f0d860"/><rect x="641.9" y="743.2" width="3.2" height="6.5" rx="1.5" fill="#f1eedc"/><rect x="648.4" y="743.2" width="3.2" height="6.5" rx="1.5" fill="#f0d860"/><rect x="658.4" y="743.2" width="3.2" height="6.5" rx="1.5" fill="#f1eedc"/><rect x="664.9" y="743.2" width="3.2" height="6.5" rx="1.5" fill="#f1eedc"/><rect x="671.4" y="743.2" width="3.2" height="6.5" rx="1.5" fill="#f1eedc"/><rect x="677.9" y="743.2" width="3.2" height="6.5" rx="1.5" fill="#f1eedc"/><rect x="684.4" y="743.2" width="3.2" height="6.5" rx="1.5" fill="#f1eedc"/><rect x="690.9" y="743.2" width="3.2" height="6.5" rx="1.5" fill="#f0d860"/><rect x="697.4" y="743.2" width="3.2" height="6.5" rx="1.5" fill="#f1eedc"/><rect x="710.4" y="743.2" width="3.2" height="6.5" rx="1.5" fill="#f0d860"/><rect x="716.9" y="743.2" width="3.2" height="6.5" rx="1.5" fill="#f1eedc"/><rect x="723.4" y="743.2" width="3.2" height="6.5" rx="1.5" fill="#f1eedc"/><rect x="596.0" y="737.8" width="7" height="3.5" fill="#15191a"/><rect x="606.0" y="737.8" width="7" height="3.5" fill="#15191a"/><rect x="616.0" y="737.8" width="7" height="3.5" fill="#15191a"/><rect x="626.0" y="737.8" width="7" height="3.5" fill="#15191a"/><rect x="636.0" y="737.8" width="7" height="3.5" fill="#15191a"/><rect x="656.0" y="737.8" width="7" height="3.5" fill="#15191a"/><rect x="666.0" y="737.8" width="7" height="3.5" fill="#15191a"/><rect x="676.0" y="737.8" width="7" height="3.5" fill="#15191a"/><rect x="686.0" y="737.8" width="7" height="3.5" fill="#15191a"/><rect x="696.0" y="737.8" width="7" height="3.5" fill="#15191a"/><rect x="716.0" y="737.8" width="7" height="3.5" fill="#15191a"/><rect x="726.0" y="737.8" width="7" height="3.5" fill="#15191a"/><rect x="596.0" y="754.2" width="7" height="3.5" fill="#15191a"/><rect x="606.0" y="754.2" width="7" height="3.5" fill="#15191a"/><rect x="616.0" y="754.2" width="7" height="3.5" fill="#15191a"/><rect x="626.0" y="754.2" width="7" height="3.5" fill="#15191a"/><rect x="636.0" y="754.2" width="7" height="3.5" fill="#15191a"/><rect x="646.0" y="754.2" width="7" height="3.5" fill="#15191a"/><rect x="656.0" y="754.2" width="7" height="3.5" fill="#15191a"/><rect x="666.0" y="754.2" width="7" height="3.5" fill="#15191a"/><rect x="676.0" y="754.2" width="7" height="3.5" fill="#15191a"/><rect x="686.0" y="754.2" width="7" height="3.5" fill="#15191a"/><rect x="696.0" y="754.2" width="7" height="3.5" fill="#15191a"/><rect x="716.0" y="754.2" width="7" height="3.5" fill="#15191a"/><rect x="726.0" y="754.2" width="7" height="3.5" fill="#15191a"/><rect x="596.4" y="758.8" width="3.2" height="6.5" rx="1.5" fill="#f1eedc"/><rect x="602.6" y="758.8" width="3.2" height="6.5" rx="1.5" fill="#f1eedc"/><rect x="608.8" y="758.8" width="3.2" height="6.5" rx="1.5" fill="#f0d860"/><rect x="615.0" y="758.8" width="3.2" height="6.5" rx="1.5" fill="#f1eedc"/><rect x="621.2" y="758.8" width="3.2" height="6.5" rx="1.5" fill="#f1eedc"/><rect x="627.4" y="758.8" width="3.2" height="6.5" rx="1.5" fill="#f0d860"/><rect x="633.6" y="758.8" width="3.2" height="6.5" rx="1.5" fill="#f1eedc"/><rect x="639.8" y="758.8" width="3.2" height="6.5" rx="1.5" fill="#f1eedc"/><rect x="646.0" y="758.8" width="3.2" height="6.5" rx="1.5" fill="#f1eedc"/><rect x="652.2" y="758.8" width="3.2" height="6.5" rx="1.5" fill="#f0d860"/><rect x="658.4" y="758.8" width="3.2" height="6.5" rx="1.5" fill="#f0d860"/><rect x="664.6" y="758.8" width="3.2" height="6.5" rx="1.5" fill="#f1eedc"/><rect x="670.8" y="758.8" width="3.2" height="6.5" rx="1.5" fill="#f1eedc"/><rect x="683.2" y="758.8" width="3.2" height="6.5" rx="1.5" fill="#f0d860"/><rect x="695.6" y="758.8" width="3.2" height="6.5" rx="1.5" fill="#f0d860"/><rect x="701.8" y="758.8" width="3.2" height="6.5" rx="1.5" fill="#f1eedc"/><rect x="708.0" y="758.8" width="3.2" height="6.5" rx="1.5" fill="#f1eedc"/><rect x="714.2" y="758.8" width="3.2" height="6.5" rx="1.5" fill="#f1eedc"/><rect x="596.0" y="767.2" width="7" height="3.5" fill="#15191a"/><rect x="605.0" y="767.2" width="7" height="3.5" fill="#15191a"/><rect x="623.0" y="767.2" width="7" height="3.5" fill="#15191a"/><rect x="632.0" y="767.2" width="7" height="3.5" fill="#15191a"/><rect x="650.0" y="767.2" width="7" height="3.5" fill="#15191a"/><rect x="659.0" y="767.2" width="7" height="3.5" fill="#15191a"/><rect x="668.0" y="767.2" width="7" height="3.5" fill="#15191a"/><rect x="677.0" y="767.2" width="7" height="3.5" fill="#15191a"/><rect x="686.0" y="767.2" width="7" height="3.5" fill="#15191a"/><rect x="695.0" y="767.2" width="7" height="3.5" fill="#15191a"/><rect x="704.0" y="767.2" width="7" height="3.5" fill="#15191a"/><rect x="713.0" y="767.2" width="7" height="3.5" fill="#15191a"/><rect x="596.4" y="774.8" width="3.2" height="6.5" rx="1.5" fill="#f1eedc"/><rect x="615.9" y="774.8" width="3.2" height="6.5" rx="1.5" fill="#f1eedc"/><rect x="635.4" y="774.8" width="3.2" height="6.5" rx="1.5" fill="#f1eedc"/><rect x="641.9" y="774.8" width="3.2" height="6.5" rx="1.5" fill="#f1eedc"/><rect x="648.4" y="774.8" width="3.2" height="6.5" rx="1.5" fill="#f1eedc"/><rect x="654.9" y="774.8" width="3.2" height="6.5" rx="1.5" fill="#f0d860"/><rect x="661.4" y="774.8" width="3.2" height="6.5" rx="1.5" fill="#f1eedc"/><rect x="674.4" y="774.8" width="3.2" height="6.5" rx="1.5" fill="#f0d860"/><rect x="680.9" y="774.8" width="3.2" height="6.5" rx="1.5" fill="#f0d860"/><rect x="687.4" y="774.8" width="3.2" height="6.5" rx="1.5" fill="#f1eedc"/><rect x="693.9" y="774.8" width="3.2" height="6.5" rx="1.5" fill="#f0d860"/><rect x="700.4" y="774.8" width="3.2" height="6.5" rx="1.5" fill="#f1eedc"/><rect x="706.9" y="774.8" width="3.2" height="6.5" rx="1.5" fill="#f1eedc"/><rect x="713.4" y="774.8" width="3.2" height="6.5" rx="1.5" fill="#f0d860"/><rect x="719.9" y="774.8" width="3.2" height="6.5" rx="1.5" fill="#f1eedc"/><rect x="596" y="785" width="134" height="6" fill="#188a8a"/><rect x="507" y="796" width="5" height="6" fill="#e8e8e8"/><rect x="520" y="796" width="5" height="6" fill="#bdbdbd"/><rect x="533" y="796" width="5" height="6" fill="#2a2a2a"/><rect x="548" y="796" width="5" height="6" fill="#bdbdbd"/><rect x="562" y="796" width="5" height="6" fill="#e8e8e8"/><rect x="578" y="796" width="7" height="6" fill="#2a2a2a"/><rect x="600" y="796" width="9" height="6" fill="#2a2a2a"/><rect x="614" y="796" width="9" height="6" fill="#e8e8e8"/><rect x="640" y="796" width="5" height="6" fill="#e8e8e8"/><rect x="670" y="796" width="7" height="6" fill="#e8e8e8"/><ellipse cx="670" cy="800" rx="8" ry="5" fill="#1f3a3a"/><rect x="686.0" y="796.0" width="4" height="8" rx="1.5" fill="#e2b08a"/><rect x="692.0" y="796.0" width="4" height="8" rx="1.5" fill="#f0d860"/><rect x="698.0" y="796.0" width="4" height="8" rx="1.5" fill="#e2b08a"/><rect x="704.0" y="796.0" width="4" height="8" rx="1.5" fill="#e2b08a"/><rect x="710.0" y="796.0" width="4" height="8" rx="1.5" fill="#f0d860"/></g>
<!-- handle + rod -->
<path d="M472,784 L497,786 L484,811 Z" fill="none" stroke="#e0553a" stroke-width="4.5" stroke-linejoin="round"/>
<line x1="484" y1="812" x2="411.2" y2="870.2" stroke="#2a2a2a" stroke-width="3.2"/>
<rect x="474" y="814" width="12" height="8" fill="#e8e6dd" transform="rotate(-38 480 818)"/>

<!-- INSTRUMENT PANEL -->
<defs><clipPath id="ipclip"><path d="M98.5,895 L141,874.5 L183.5,857.5 L275,855 L293,869 L360,895.5 L357.5,941 L355,1051 L294,1061.5 L287,1070 L274,1071 L274,1104 L186,1104 L180,1070 L168,1059 L98.5,1053.5 Z"/></clipPath></defs>
<g id="ip">
<rect x="74.7" y="952" width="21" height="84" fill="#55545b"/>
<rect x="360" y="949.3" width="20" height="83" fill="#55545b"/>
<path d="M178,1070 L278,1070 L276,1122 L252,1122 L252,1145 L216,1145 L216,1122 L180,1122 Z" fill="#5a595f"/>
<path d="M96,893.3 L140,872 L182.7,854.7 L276,852 L294.7,866.7 L362.7,893.3 L360,941.3 L357.3,1053.3 L294.7,1064 L289.3,1072 L276,1072 L276,1106.7 L184,1106.7 L177.3,1072 L166.7,1061.3 L96,1056 Z" fill="#464a4e"/>
<path d="M98.5,895 L141,874.5 L183.5,857.5 L275,855 L293,869 L360,895.5 L357.5,941 L355,1051 L294,1061.5 L287,1070 L274,1071 L274,1104 L186,1104 L180,1070 L168,1059 L98.5,1053.5 Z" fill="#17a0a4"/>
<g clip-path="url(#ipclip)"><circle cx="256.7" cy="894.7" r="0.6" fill="#0d5e60" opacity="0.8"/><circle cx="179.6" cy="1093.7" r="0.8" fill="#0d5e60" opacity="0.8"/><circle cx="217.7" cy="985.0" r="1.0" fill="#222" opacity="0.8"/><circle cx="275.1" cy="881.4" r="1.0" fill="#0d5e60" opacity="0.8"/><circle cx="210.1" cy="1034.6" r="0.6" fill="#0d5e60" opacity="0.8"/><circle cx="211.7" cy="920.0" r="0.8" fill="#222" opacity="0.8"/><circle cx="186.1" cy="1051.5" r="1.0" fill="#0d5e60" opacity="0.8"/><circle cx="103.2" cy="1008.7" r="1.0" fill="#6fd0d0" opacity="0.8"/><circle cx="113.6" cy="1011.6" r="0.8" fill="#0d5e60" opacity="0.8"/><circle cx="274.6" cy="943.4" r="1.0" fill="#0d5e60" opacity="0.8"/><circle cx="289.9" cy="861.5" r="0.6" fill="#222" opacity="0.8"/><circle cx="103.5" cy="947.6" r="1.0" fill="#0d5e60" opacity="0.8"/><circle cx="175.6" cy="1005.2" r="0.6" fill="#0d5e60" opacity="0.8"/><circle cx="146.2" cy="1044.0" r="1.0" fill="#0d5e60" opacity="0.8"/><circle cx="176.1" cy="949.5" r="0.6" fill="#222" opacity="0.8"/><circle cx="275.8" cy="888.6" r="1.0" fill="#6fd0d0" opacity="0.8"/><circle cx="268.0" cy="922.8" r="0.8" fill="#6fd0d0" opacity="0.8"/><circle cx="274.3" cy="1017.1" r="0.6" fill="#6fd0d0" opacity="0.8"/><circle cx="254.2" cy="1091.4" r="1.0" fill="#6fd0d0" opacity="0.8"/><circle cx="212.0" cy="1068.2" r="0.6" fill="#6fd0d0" opacity="0.8"/><circle cx="185.5" cy="1017.3" r="1.0" fill="#0d5e60" opacity="0.8"/><circle cx="168.4" cy="1051.2" r="0.6" fill="#222" opacity="0.8"/><circle cx="347.0" cy="934.2" r="1.0" fill="#6fd0d0" opacity="0.8"/><circle cx="322.6" cy="940.3" r="1.0" fill="#6fd0d0" opacity="0.8"/><circle cx="307.6" cy="941.6" r="0.6" fill="#0d5e60" opacity="0.8"/><circle cx="173.9" cy="1052.9" r="0.8" fill="#0d5e60" opacity="0.8"/><circle cx="188.1" cy="959.4" r="0.8" fill="#222" opacity="0.8"/><circle cx="204.5" cy="1084.3" r="0.6" fill="#6fd0d0" opacity="0.8"/><circle cx="99.2" cy="1089.9" r="1.0" fill="#222" opacity="0.8"/><circle cx="210.9" cy="1091.6" r="1.0" fill="#6fd0d0" opacity="0.8"/><circle cx="106.4" cy="969.3" r="1.0" fill="#222" opacity="0.8"/><circle cx="232.9" cy="927.7" r="0.8" fill="#6fd0d0" opacity="0.8"/><circle cx="322.0" cy="1068.8" r="0.8" fill="#6fd0d0" opacity="0.8"/><circle cx="308.6" cy="867.2" r="1.0" fill="#222" opacity="0.8"/><circle cx="338.2" cy="1078.3" r="0.8" fill="#222" opacity="0.8"/><circle cx="110.8" cy="975.3" r="0.6" fill="#6fd0d0" opacity="0.8"/><circle cx="228.8" cy="915.3" r="0.6" fill="#222" opacity="0.8"/><circle cx="237.6" cy="869.2" r="1.0" fill="#6fd0d0" opacity="0.8"/><circle cx="186.8" cy="918.6" r="1.0" fill="#0d5e60" opacity="0.8"/><circle cx="309.0" cy="871.2" r="0.6" fill="#6fd0d0" opacity="0.8"/><circle cx="129.8" cy="1076.1" r="0.6" fill="#6fd0d0" opacity="0.8"/><circle cx="160.3" cy="923.9" r="0.6" fill="#6fd0d0" opacity="0.8"/><circle cx="224.8" cy="997.6" r="0.8" fill="#6fd0d0" opacity="0.8"/><circle cx="294.7" cy="917.6" r="1.0" fill="#222" opacity="0.8"/><circle cx="233.1" cy="868.6" r="0.8" fill="#6fd0d0" opacity="0.8"/><circle cx="320.8" cy="1048.3" r="0.6" fill="#6fd0d0" opacity="0.8"/><circle cx="111.0" cy="975.7" r="0.6" fill="#222" opacity="0.8"/><circle cx="120.4" cy="980.5" r="0.8" fill="#6fd0d0" opacity="0.8"/><circle cx="179.8" cy="943.1" r="1.0" fill="#0d5e60" opacity="0.8"/><circle cx="250.5" cy="945.5" r="0.6" fill="#0d5e60" opacity="0.8"/><circle cx="209.5" cy="887.6" r="0.6" fill="#222" opacity="0.8"/><circle cx="286.0" cy="1053.2" r="1.0" fill="#6fd0d0" opacity="0.8"/><circle cx="109.2" cy="970.3" r="1.0" fill="#222" opacity="0.8"/><circle cx="196.9" cy="1054.7" r="1.0" fill="#0d5e60" opacity="0.8"/><circle cx="111.8" cy="1011.6" r="1.0" fill="#0d5e60" opacity="0.8"/><circle cx="207.3" cy="1028.1" r="0.8" fill="#6fd0d0" opacity="0.8"/><circle cx="161.7" cy="988.9" r="1.0" fill="#222" opacity="0.8"/><circle cx="116.6" cy="961.4" r="0.8" fill="#6fd0d0" opacity="0.8"/><circle cx="326.7" cy="1088.2" r="0.8" fill="#222" opacity="0.8"/><circle cx="303.6" cy="921.0" r="0.8" fill="#222" opacity="0.8"/><circle cx="130.0" cy="1057.7" r="1.0" fill="#222" opacity="0.8"/><circle cx="304.0" cy="1021.6" r="1.0" fill="#0d5e60" opacity="0.8"/><circle cx="244.6" cy="881.6" r="1.0" fill="#222" opacity="0.8"/><circle cx="99.3" cy="891.6" r="0.8" fill="#6fd0d0" opacity="0.8"/><circle cx="235.1" cy="996.0" r="1.0" fill="#0d5e60" opacity="0.8"/><circle cx="144.6" cy="861.8" r="0.6" fill="#6fd0d0" opacity="0.8"/><circle cx="317.4" cy="1023.0" r="1.0" fill="#0d5e60" opacity="0.8"/><circle cx="248.6" cy="1054.1" r="0.6" fill="#222" opacity="0.8"/><circle cx="230.9" cy="1033.4" r="0.6" fill="#222" opacity="0.8"/><circle cx="292.7" cy="1087.8" r="0.6" fill="#222" opacity="0.8"/><circle cx="182.3" cy="995.9" r="0.6" fill="#6fd0d0" opacity="0.8"/><circle cx="357.6" cy="1016.2" r="0.8" fill="#222" opacity="0.8"/><circle cx="280.0" cy="1089.8" r="0.8" fill="#0d5e60" opacity="0.8"/><circle cx="253.9" cy="1088.8" r="1.0" fill="#0d5e60" opacity="0.8"/><circle cx="349.2" cy="949.1" r="0.6" fill="#0d5e60" opacity="0.8"/><circle cx="317.3" cy="1095.8" r="0.8" fill="#222" opacity="0.8"/><circle cx="245.8" cy="999.8" r="1.0" fill="#222" opacity="0.8"/><circle cx="223.8" cy="1015.5" r="0.6" fill="#6fd0d0" opacity="0.8"/><circle cx="122.9" cy="1041.5" r="1.0" fill="#222" opacity="0.8"/><circle cx="345.2" cy="1001.4" r="0.6" fill="#6fd0d0" opacity="0.8"/><circle cx="167.5" cy="905.4" r="1.0" fill="#222" opacity="0.8"/><circle cx="179.9" cy="913.6" r="1.0" fill="#222" opacity="0.8"/><circle cx="345.9" cy="929.4" r="1.0" fill="#0d5e60" opacity="0.8"/><circle cx="252.8" cy="1001.0" r="0.8" fill="#6fd0d0" opacity="0.8"/><circle cx="177.9" cy="922.5" r="0.8" fill="#6fd0d0" opacity="0.8"/><circle cx="142.8" cy="945.4" r="0.8" fill="#0d5e60" opacity="0.8"/><circle cx="299.3" cy="891.6" r="1.0" fill="#0d5e60" opacity="0.8"/><circle cx="280.4" cy="907.0" r="1.0" fill="#222" opacity="0.8"/><circle cx="242.9" cy="975.4" r="1.0" fill="#6fd0d0" opacity="0.8"/><circle cx="320.7" cy="955.3" r="1.0" fill="#6fd0d0" opacity="0.8"/><circle cx="219.5" cy="912.9" r="0.6" fill="#222" opacity="0.8"/><circle cx="284.6" cy="1023.5" r="0.6" fill="#0d5e60" opacity="0.8"/><circle cx="160.9" cy="903.0" r="0.8" fill="#6fd0d0" opacity="0.8"/><circle cx="146.7" cy="1030.8" r="0.6" fill="#0d5e60" opacity="0.8"/><circle cx="142.1" cy="867.2" r="0.6" fill="#0d5e60" opacity="0.8"/><circle cx="121.6" cy="1054.1" r="0.6" fill="#6fd0d0" opacity="0.8"/><circle cx="166.7" cy="1082.6" r="0.6" fill="#0d5e60" opacity="0.8"/><circle cx="215.6" cy="1038.1" r="0.8" fill="#6fd0d0" opacity="0.8"/><circle cx="105.6" cy="938.2" r="0.8" fill="#0d5e60" opacity="0.8"/><circle cx="118.3" cy="1015.8" r="1.0" fill="#0d5e60" opacity="0.8"/><circle cx="199.6" cy="991.0" r="0.6" fill="#0d5e60" opacity="0.8"/><circle cx="117.8" cy="963.3" r="0.8" fill="#222" opacity="0.8"/><circle cx="334.3" cy="880.0" r="1.0" fill="#0d5e60" opacity="0.8"/><circle cx="274.4" cy="947.4" r="0.8" fill="#0d5e60" opacity="0.8"/><circle cx="270.4" cy="1022.2" r="0.8" fill="#6fd0d0" opacity="0.8"/><circle cx="294.1" cy="1094.4" r="1.0" fill="#222" opacity="0.8"/><circle cx="237.4" cy="884.1" r="0.8" fill="#222" opacity="0.8"/><circle cx="189.6" cy="1034.1" r="1.0" fill="#222" opacity="0.8"/><circle cx="245.3" cy="901.1" r="1.0" fill="#222" opacity="0.8"/><circle cx="262.0" cy="900.4" r="1.0" fill="#0d5e60" opacity="0.8"/><circle cx="130.0" cy="1087.1" r="0.6" fill="#0d5e60" opacity="0.8"/><circle cx="265.7" cy="1017.1" r="0.8" fill="#222" opacity="0.8"/><circle cx="176.1" cy="902.4" r="0.8" fill="#0d5e60" opacity="0.8"/><circle cx="301.4" cy="1031.0" r="0.6" fill="#222" opacity="0.8"/><circle cx="145.1" cy="993.3" r="1.0" fill="#222" opacity="0.8"/><circle cx="199.9" cy="880.8" r="0.8" fill="#0d5e60" opacity="0.8"/><circle cx="111.9" cy="889.9" r="0.8" fill="#222" opacity="0.8"/><circle cx="168.5" cy="1028.5" r="1.0" fill="#0d5e60" opacity="0.8"/><circle cx="325.6" cy="1090.4" r="0.8" fill="#222" opacity="0.8"/><circle cx="308.4" cy="873.2" r="0.8" fill="#6fd0d0" opacity="0.8"/><circle cx="137.4" cy="1002.3" r="1.0" fill="#6fd0d0" opacity="0.8"/><circle cx="244.7" cy="1081.7" r="0.6" fill="#6fd0d0" opacity="0.8"/><circle cx="279.5" cy="996.6" r="1.0" fill="#222" opacity="0.8"/><circle cx="199.7" cy="1099.9" r="0.6" fill="#222" opacity="0.8"/><circle cx="256.1" cy="1069.2" r="0.6" fill="#222" opacity="0.8"/><circle cx="235.2" cy="997.0" r="0.6" fill="#0d5e60" opacity="0.8"/><circle cx="194.1" cy="928.7" r="0.8" fill="#0d5e60" opacity="0.8"/><circle cx="344.8" cy="951.0" r="1.0" fill="#222" opacity="0.8"/><circle cx="178.5" cy="979.5" r="1.0" fill="#222" opacity="0.8"/><circle cx="281.8" cy="1078.1" r="1.0" fill="#0d5e60" opacity="0.8"/><circle cx="105.8" cy="903.2" r="1.0" fill="#6fd0d0" opacity="0.8"/><circle cx="125.9" cy="1043.5" r="0.6" fill="#0d5e60" opacity="0.8"/><circle cx="143.0" cy="1011.0" r="0.6" fill="#6fd0d0" opacity="0.8"/><circle cx="301.4" cy="908.5" r="1.0" fill="#222" opacity="0.8"/><circle cx="344.1" cy="883.7" r="0.8" fill="#222" opacity="0.8"/><circle cx="329.9" cy="889.6" r="0.6" fill="#222" opacity="0.8"/><circle cx="338.1" cy="862.3" r="1.0" fill="#6fd0d0" opacity="0.8"/><circle cx="229.5" cy="979.7" r="0.6" fill="#0d5e60" opacity="0.8"/><circle cx="182.0" cy="1071.9" r="1.0" fill="#222" opacity="0.8"/><circle cx="132.9" cy="1068.9" r="1.0" fill="#6fd0d0" opacity="0.8"/><circle cx="284.1" cy="1039.5" r="0.8" fill="#6fd0d0" opacity="0.8"/><circle cx="340.3" cy="1069.6" r="0.8" fill="#222" opacity="0.8"/><circle cx="294.8" cy="976.3" r="0.6" fill="#6fd0d0" opacity="0.8"/><circle cx="204.2" cy="1065.6" r="1.0" fill="#6fd0d0" opacity="0.8"/><circle cx="199.8" cy="973.4" r="0.6" fill="#222" opacity="0.8"/><circle cx="319.5" cy="907.7" r="0.8" fill="#0d5e60" opacity="0.8"/><circle cx="104.1" cy="969.5" r="1.0" fill="#0d5e60" opacity="0.8"/><circle cx="212.0" cy="968.9" r="0.6" fill="#222" opacity="0.8"/><circle cx="164.7" cy="1066.5" r="0.8" fill="#222" opacity="0.8"/><circle cx="192.0" cy="955.6" r="0.6" fill="#6fd0d0" opacity="0.8"/><circle cx="165.3" cy="947.7" r="0.8" fill="#222" opacity="0.8"/><circle cx="148.8" cy="907.9" r="0.6" fill="#222" opacity="0.8"/><circle cx="203.0" cy="897.7" r="0.6" fill="#6fd0d0" opacity="0.8"/><circle cx="126.6" cy="897.7" r="0.8" fill="#6fd0d0" opacity="0.8"/><circle cx="113.5" cy="861.6" r="0.8" fill="#0d5e60" opacity="0.8"/><circle cx="204.0" cy="1030.5" r="0.6" fill="#6fd0d0" opacity="0.8"/><circle cx="202.9" cy="954.4" r="0.6" fill="#6fd0d0" opacity="0.8"/><circle cx="160.8" cy="952.5" r="0.6" fill="#6fd0d0" opacity="0.8"/><circle cx="184.6" cy="884.8" r="0.6" fill="#222" opacity="0.8"/><circle cx="111.5" cy="1036.5" r="0.8" fill="#0d5e60" opacity="0.8"/><circle cx="303.2" cy="1094.5" r="0.8" fill="#6fd0d0" opacity="0.8"/><circle cx="243.9" cy="863.5" r="0.8" fill="#222" opacity="0.8"/><circle cx="356.1" cy="934.6" r="0.6" fill="#222" opacity="0.8"/><circle cx="211.2" cy="878.2" r="1.0" fill="#6fd0d0" opacity="0.8"/><circle cx="125.2" cy="1024.8" r="0.6" fill="#6fd0d0" opacity="0.8"/><circle cx="228.8" cy="975.5" r="0.6" fill="#222" opacity="0.8"/><circle cx="230.5" cy="938.1" r="0.8" fill="#0d5e60" opacity="0.8"/><circle cx="306.9" cy="1083.5" r="1.0" fill="#6fd0d0" opacity="0.8"/><circle cx="197.4" cy="1042.4" r="1.0" fill="#0d5e60" opacity="0.8"/><circle cx="120.8" cy="928.8" r="0.8" fill="#6fd0d0" opacity="0.8"/><circle cx="229.9" cy="991.7" r="1.0" fill="#222" opacity="0.8"/><circle cx="300.4" cy="955.9" r="1.0" fill="#222" opacity="0.8"/><circle cx="198.3" cy="1088.5" r="0.8" fill="#6fd0d0" opacity="0.8"/><circle cx="192.3" cy="958.9" r="0.6" fill="#0d5e60" opacity="0.8"/><circle cx="300.7" cy="975.2" r="0.8" fill="#6fd0d0" opacity="0.8"/><circle cx="229.8" cy="1042.7" r="1.0" fill="#222" opacity="0.8"/><circle cx="198.6" cy="976.8" r="0.6" fill="#6fd0d0" opacity="0.8"/><circle cx="282.8" cy="861.7" r="0.8" fill="#6fd0d0" opacity="0.8"/><circle cx="295.2" cy="1024.0" r="0.6" fill="#0d5e60" opacity="0.8"/><circle cx="159.7" cy="1065.2" r="1.0" fill="#6fd0d0" opacity="0.8"/><circle cx="326.4" cy="1072.3" r="0.8" fill="#0d5e60" opacity="0.8"/><circle cx="331.2" cy="1037.7" r="0.8" fill="#0d5e60" opacity="0.8"/><circle cx="98.4" cy="904.3" r="0.6" fill="#0d5e60" opacity="0.8"/><circle cx="245.9" cy="883.3" r="0.6" fill="#222" opacity="0.8"/><circle cx="152.7" cy="1026.7" r="0.6" fill="#222" opacity="0.8"/><circle cx="135.2" cy="1100.4" r="0.6" fill="#6fd0d0" opacity="0.8"/><circle cx="172.8" cy="907.8" r="1.0" fill="#222" opacity="0.8"/><circle cx="207.1" cy="1049.7" r="1.0" fill="#0d5e60" opacity="0.8"/><circle cx="303.0" cy="988.7" r="0.6" fill="#0d5e60" opacity="0.8"/><circle cx="144.2" cy="875.6" r="0.6" fill="#222" opacity="0.8"/><circle cx="104.2" cy="1095.7" r="0.6" fill="#0d5e60" opacity="0.8"/><circle cx="120.3" cy="971.4" r="0.6" fill="#222" opacity="0.8"/><circle cx="258.0" cy="1015.2" r="1.0" fill="#222" opacity="0.8"/><circle cx="188.0" cy="1005.6" r="0.8" fill="#6fd0d0" opacity="0.8"/><circle cx="173.9" cy="1090.4" r="0.8" fill="#0d5e60" opacity="0.8"/><circle cx="151.6" cy="989.7" r="0.8" fill="#0d5e60" opacity="0.8"/><circle cx="287.3" cy="875.2" r="0.8" fill="#6fd0d0" opacity="0.8"/><circle cx="224.0" cy="873.7" r="1.0" fill="#222" opacity="0.8"/><circle cx="289.2" cy="960.9" r="1.0" fill="#6fd0d0" opacity="0.8"/><circle cx="255.5" cy="909.1" r="0.8" fill="#6fd0d0" opacity="0.8"/><circle cx="185.2" cy="962.8" r="0.6" fill="#0d5e60" opacity="0.8"/><circle cx="154.7" cy="897.0" r="0.6" fill="#222" opacity="0.8"/><circle cx="154.9" cy="1073.1" r="1.0" fill="#222" opacity="0.8"/><circle cx="218.5" cy="1032.4" r="0.8" fill="#0d5e60" opacity="0.8"/><circle cx="344.5" cy="1080.0" r="0.8" fill="#0d5e60" opacity="0.8"/><circle cx="330.4" cy="1099.8" r="0.8" fill="#222" opacity="0.8"/><circle cx="337.3" cy="928.4" r="0.6" fill="#6fd0d0" opacity="0.8"/><circle cx="330.0" cy="863.0" r="0.6" fill="#0d5e60" opacity="0.8"/><circle cx="228.9" cy="871.2" r="0.8" fill="#6fd0d0" opacity="0.8"/><circle cx="148.7" cy="907.4" r="0.8" fill="#0d5e60" opacity="0.8"/><circle cx="107.8" cy="972.1" r="0.6" fill="#222" opacity="0.8"/><circle cx="301.3" cy="891.5" r="0.8" fill="#0d5e60" opacity="0.8"/><circle cx="334.2" cy="966.1" r="0.6" fill="#6fd0d0" opacity="0.8"/><circle cx="224.7" cy="1056.9" r="0.8" fill="#0d5e60" opacity="0.8"/><circle cx="352.7" cy="1073.3" r="0.8" fill="#6fd0d0" opacity="0.8"/><circle cx="210.1" cy="1089.1" r="0.8" fill="#222" opacity="0.8"/><circle cx="357.6" cy="911.2" r="0.8" fill="#0d5e60" opacity="0.8"/><circle cx="105.6" cy="948.6" r="0.8" fill="#0d5e60" opacity="0.8"/><circle cx="292.4" cy="1086.7" r="1.0" fill="#6fd0d0" opacity="0.8"/><circle cx="101.7" cy="1012.0" r="0.6" fill="#222" opacity="0.8"/><circle cx="103.4" cy="1091.6" r="0.6" fill="#6fd0d0" opacity="0.8"/><circle cx="353.8" cy="1052.7" r="0.8" fill="#0d5e60" opacity="0.8"/><circle cx="352.6" cy="864.7" r="0.6" fill="#6fd0d0" opacity="0.8"/><circle cx="101.4" cy="963.2" r="0.8" fill="#6fd0d0" opacity="0.8"/><circle cx="254.9" cy="1057.2" r="0.8" fill="#0d5e60" opacity="0.8"/><circle cx="166.0" cy="1022.6" r="0.8" fill="#0d5e60" opacity="0.8"/><circle cx="286.0" cy="940.2" r="0.6" fill="#0d5e60" opacity="0.8"/><circle cx="107.7" cy="1103.0" r="0.6" fill="#222" opacity="0.8"/><circle cx="162.3" cy="889.6" r="0.8" fill="#222" opacity="0.8"/><circle cx="293.1" cy="939.7" r="0.6" fill="#0d5e60" opacity="0.8"/><circle cx="102.3" cy="867.2" r="0.8" fill="#222" opacity="0.8"/><circle cx="113.7" cy="1058.4" r="0.8" fill="#0d5e60" opacity="0.8"/><circle cx="233.5" cy="1043.2" r="1.0" fill="#222" opacity="0.8"/><circle cx="205.8" cy="984.6" r="0.6" fill="#0d5e60" opacity="0.8"/><circle cx="145.6" cy="1025.6" r="1.0" fill="#6fd0d0" opacity="0.8"/><circle cx="204.1" cy="943.3" r="0.8" fill="#0d5e60" opacity="0.8"/><circle cx="306.8" cy="968.2" r="1.0" fill="#6fd0d0" opacity="0.8"/><circle cx="248.1" cy="890.6" r="0.6" fill="#0d5e60" opacity="0.8"/><circle cx="224.2" cy="913.2" r="0.8" fill="#222" opacity="0.8"/><circle cx="257.2" cy="863.6" r="1.0" fill="#222" opacity="0.8"/><circle cx="240.9" cy="976.9" r="0.8" fill="#222" opacity="0.8"/><circle cx="294.0" cy="922.4" r="0.8" fill="#222" opacity="0.8"/><circle cx="117.7" cy="864.3" r="0.8" fill="#222" opacity="0.8"/><circle cx="214.4" cy="933.2" r="0.8" fill="#6fd0d0" opacity="0.8"/><circle cx="268.0" cy="1089.5" r="0.8" fill="#0d5e60" opacity="0.8"/><circle cx="110.8" cy="909.1" r="0.6" fill="#0d5e60" opacity="0.8"/><circle cx="180.5" cy="953.3" r="0.8" fill="#6fd0d0" opacity="0.8"/><circle cx="132.2" cy="918.1" r="0.6" fill="#0d5e60" opacity="0.8"/><circle cx="157.7" cy="905.6" r="0.6" fill="#222" opacity="0.8"/><circle cx="234.8" cy="1040.3" r="0.6" fill="#222" opacity="0.8"/><circle cx="316.0" cy="1074.4" r="0.8" fill="#222" opacity="0.8"/><circle cx="116.0" cy="922.4" r="0.8" fill="#0d5e60" opacity="0.8"/><circle cx="167.6" cy="991.4" r="0.6" fill="#6fd0d0" opacity="0.8"/><circle cx="159.3" cy="1093.5" r="0.6" fill="#6fd0d0" opacity="0.8"/><circle cx="333.4" cy="900.1" r="0.8" fill="#222" opacity="0.8"/><circle cx="201.4" cy="858.1" r="0.8" fill="#6fd0d0" opacity="0.8"/><circle cx="144.9" cy="1011.4" r="0.8" fill="#6fd0d0" opacity="0.8"/><circle cx="266.6" cy="888.4" r="0.6" fill="#6fd0d0" opacity="0.8"/><circle cx="234.3" cy="893.7" r="0.6" fill="#0d5e60" opacity="0.8"/><circle cx="300.5" cy="963.5" r="0.6" fill="#6fd0d0" opacity="0.8"/></g>
<line x1="97" y1="941" x2="360" y2="941" stroke="#0f4a50" stroke-width="2.2"/>
<line x1="141.6" y1="876" x2="141.6" y2="941" stroke="#156a6c" stroke-width="1.8"/>
<line x1="293" y1="869" x2="293" y2="941" stroke="#156a6c" stroke-width="1.8"/>
<rect x="222.1" y="942" width="9.65" height="119" fill="#eef0ea"/>
<rect x="265" y="866" width="22.75" height="31" fill="#262a30"/><rect x="266.4" y="867.2" width="4.9" height="3.4" fill="#d8d8d8"/><rect x="266.4" y="873.4" width="4.9" height="3.4" fill="#d8d8d8"/><rect x="266.4" y="879.6" width="4.9" height="3.4" fill="#4a5a70"/><rect x="266.4" y="885.8" width="4.9" height="3.4" fill="#c0c8d8"/><rect x="266.4" y="892.0" width="4.9" height="3.4" fill="#8fa8c8"/><rect x="273.9" y="867.2" width="4.9" height="3.4" fill="#8fa8c8"/><rect x="273.9" y="873.4" width="4.9" height="3.4" fill="#c0c8d8"/><rect x="273.9" y="879.6" width="4.9" height="3.4" fill="#4a5a70"/><rect x="273.9" y="885.8" width="4.9" height="3.4" fill="#d8d8d8"/><rect x="273.9" y="892.0" width="4.9" height="3.4" fill="#d8d8d8"/><rect x="281.5" y="867.2" width="4.9" height="3.4" fill="#c0c8d8"/><rect x="281.5" y="873.4" width="4.9" height="3.4" fill="#c0c8d8"/><rect x="281.5" y="879.6" width="4.9" height="3.4" fill="#c0c8d8"/><rect x="281.5" y="885.8" width="4.9" height="3.4" fill="#d8d8d8"/><rect x="281.5" y="892.0" width="4.9" height="3.4" fill="#d8d8d8"/><rect x="265" y="897" width="22.75" height="35.5" fill="#3a3c3e"/><rect x="266.0" y="897.9" width="3.6" height="2.4" fill="#a0a0a0"/><rect x="266.0" y="902.3" width="3.6" height="2.4" fill="#eeeeea"/><rect x="266.0" y="906.8" width="3.6" height="2.4" fill="#a0a0a0"/><rect x="266.0" y="911.2" width="3.6" height="2.4" fill="#d6d6d0"/><rect x="266.0" y="915.6" width="3.6" height="2.4" fill="#a0a0a0"/><rect x="266.0" y="920.1" width="3.6" height="2.4" fill="#eeeeea"/><rect x="266.0" y="924.5" width="3.6" height="2.4" fill="#a0a0a0"/><rect x="266.0" y="929.0" width="3.6" height="2.4" fill="#eeeeea"/><rect x="271.7" y="897.9" width="3.6" height="2.4" fill="#eeeeea"/><rect x="271.7" y="902.3" width="3.6" height="2.4" fill="#a0a0a0"/><rect x="271.7" y="906.8" width="3.6" height="2.4" fill="#eeeeea"/><rect x="271.7" y="911.2" width="3.6" height="2.4" fill="#d6d6d0"/><rect x="271.7" y="915.6" width="3.6" height="2.4" fill="#eeeeea"/><rect x="271.7" y="920.1" width="3.6" height="2.4" fill="#d6d6d0"/><rect x="271.7" y="924.5" width="3.6" height="2.4" fill="#d6d6d0"/><rect x="271.7" y="929.0" width="3.6" height="2.4" fill="#a0a0a0"/><rect x="277.4" y="897.9" width="3.6" height="2.4" fill="#a0a0a0"/><rect x="277.4" y="902.3" width="3.6" height="2.4" fill="#d6d6d0"/><rect x="277.4" y="906.8" width="3.6" height="2.4" fill="#a0a0a0"/><rect x="277.4" y="911.2" width="3.6" height="2.4" fill="#d6d6d0"/><rect x="277.4" y="915.6" width="3.6" height="2.4" fill="#d6d6d0"/><rect x="277.4" y="920.1" width="3.6" height="2.4" fill="#a0a0a0"/><rect x="277.4" y="924.5" width="3.6" height="2.4" fill="#a0a0a0"/><rect x="277.4" y="929.0" width="3.6" height="2.4" fill="#d6d6d0"/><rect x="283.1" y="897.9" width="3.6" height="2.4" fill="#eeeeea"/><rect x="283.1" y="902.3" width="3.6" height="2.4" fill="#d6d6d0"/><rect x="283.1" y="906.8" width="3.6" height="2.4" fill="#eeeeea"/><rect x="283.1" y="911.2" width="3.6" height="2.4" fill="#eeeeea"/><rect x="283.1" y="915.6" width="3.6" height="2.4" fill="#eeeeea"/><rect x="283.1" y="920.1" width="3.6" height="2.4" fill="#d6d6d0"/><rect x="283.1" y="924.5" width="3.6" height="2.4" fill="#eeeeea"/><rect x="283.1" y="929.0" width="3.6" height="2.4" fill="#d6d6d0"/><rect x="332.4" y="943.75" width="21.85" height="107.6" fill="#2a2d34"/><rect x="334.4" y="945.1" width="7.0" height="3.7" fill="#c8c8d0"/><rect x="334.4" y="951.8" width="7.0" height="3.7" fill="#5a6a88"/><rect x="334.4" y="958.5" width="7.0" height="3.7" fill="#c8c8d0"/><rect x="334.4" y="965.3" width="7.0" height="3.7" fill="#c8c8d0"/><rect x="334.4" y="972.0" width="7.0" height="3.7" fill="#5a6a88"/><rect x="334.4" y="978.7" width="7.0" height="3.7" fill="#c8c8d0"/><rect x="334.4" y="985.4" width="7.0" height="3.7" fill="#9ab0d0"/><rect x="334.4" y="992.2" width="7.0" height="3.7" fill="#5a6a88"/><rect x="334.4" y="998.9" width="7.0" height="3.7" fill="#e8e8e8"/><rect x="334.4" y="1005.6" width="7.0" height="3.7" fill="#5a6a88"/><rect x="334.4" y="1012.3" width="7.0" height="3.7" fill="#9ab0d0"/><rect x="334.4" y="1019.1" width="7.0" height="3.7" fill="#5a6a88"/><rect x="334.4" y="1025.8" width="7.0" height="3.7" fill="#e8e8e8"/><rect x="334.4" y="1032.5" width="7.0" height="3.7" fill="#9ab0d0"/><rect x="334.4" y="1039.2" width="7.0" height="3.7" fill="#5a6a88"/><rect x="334.4" y="1046.0" width="7.0" height="3.7" fill="#5a6a88"/><rect x="345.3" y="945.1" width="7.0" height="3.7" fill="#e8e8e8"/><rect x="345.3" y="951.8" width="7.0" height="3.7" fill="#e8e8e8"/><rect x="345.3" y="958.5" width="7.0" height="3.7" fill="#c8c8d0"/><rect x="345.3" y="965.3" width="7.0" height="3.7" fill="#c8c8d0"/><rect x="345.3" y="972.0" width="7.0" height="3.7" fill="#e8e8e8"/><rect x="345.3" y="978.7" width="7.0" height="3.7" fill="#5a6a88"/><rect x="345.3" y="985.4" width="7.0" height="3.7" fill="#e8e8e8"/><rect x="345.3" y="992.2" width="7.0" height="3.7" fill="#c8c8d0"/><rect x="345.3" y="998.9" width="7.0" height="3.7" fill="#9ab0d0"/><rect x="345.3" y="1005.6" width="7.0" height="3.7" fill="#e8e8e8"/><rect x="345.3" y="1012.3" width="7.0" height="3.7" fill="#5a6a88"/><rect x="345.3" y="1019.1" width="7.0" height="3.7" fill="#c8c8d0"/><rect x="345.3" y="1025.8" width="7.0" height="3.7" fill="#c8c8d0"/><rect x="345.3" y="1032.5" width="7.0" height="3.7" fill="#e8e8e8"/><rect x="345.3" y="1039.2" width="7.0" height="3.7" fill="#e8e8e8"/><rect x="345.3" y="1046.0" width="7.0" height="3.7" fill="#e8e8e8"/><rect x="233.5" y="985.75" width="21.9" height="33.25" fill="#24272c"/><rect x="235.5" y="986.9" width="7.0" height="3.0" fill="#b8c0d0"/><rect x="235.5" y="992.4" width="7.0" height="3.0" fill="#8898b0"/><rect x="235.5" y="997.9" width="7.0" height="3.0" fill="#8898b0"/><rect x="235.5" y="1003.5" width="7.0" height="3.0" fill="#b8c0d0"/><rect x="235.5" y="1009.0" width="7.0" height="3.0" fill="#8898b0"/><rect x="235.5" y="1014.6" width="7.0" height="3.0" fill="#b8c0d0"/><rect x="246.4" y="986.9" width="7.0" height="3.0" fill="#8898b0"/><rect x="246.4" y="992.4" width="7.0" height="3.0" fill="#e8e8e8"/><rect x="246.4" y="997.9" width="7.0" height="3.0" fill="#e8e8e8"/><rect x="246.4" y="1003.5" width="7.0" height="3.0" fill="#b8c0d0"/><rect x="246.4" y="1009.0" width="7.0" height="3.0" fill="#e8e8e8"/><rect x="246.4" y="1014.6" width="7.0" height="3.0" fill="#e8e8e8"/><rect x="185.4" y="997.1" width="36.7" height="22.8" rx="2" fill="#25282c"/><rect x="188" y="1001" width="31" height="9" fill="#1b1d20"/><rect x="189.1" y="1002.8" width="4.0" height="5.0" fill="#e0e0e0"/><rect x="195.3" y="1002.8" width="4.0" height="5.0" fill="#e0e0e0"/><rect x="201.5" y="1002.8" width="4.0" height="5.0" fill="#e0e0e0"/><rect x="207.7" y="1002.8" width="4.0" height="5.0" fill="#bbbbbb"/><rect x="213.9" y="1002.8" width="4.0" height="5.0" fill="#bbbbbb"/><rect x="142.5" y="1016.4" width="41.1" height="35" rx="2" fill="#22252a"/><circle cx="149" cy="1024" r="4.2" fill="none" stroke="#101214" stroke-width="2"/><circle cx="149" cy="1035" r="4.2" fill="none" stroke="#101214" stroke-width="2"/><circle cx="149" cy="1046" r="4.2" fill="none" stroke="#101214" stroke-width="2"/><circle cx="163" cy="1024" r="4.2" fill="none" stroke="#101214" stroke-width="2"/><circle cx="163" cy="1035" r="4.2" fill="none" stroke="#101214" stroke-width="2"/><circle cx="163" cy="1046" r="4.2" fill="none" stroke="#101214" stroke-width="2"/><circle cx="177" cy="1024" r="4.2" fill="none" stroke="#101214" stroke-width="2"/><circle cx="177" cy="1035" r="4.2" fill="none" stroke="#101214" stroke-width="2"/><circle cx="177" cy="1046" r="4.2" fill="none" stroke="#101214" stroke-width="2"/><circle cx="163" cy="1035" r="2.8" fill="#e84030"/><circle cx="192" cy="1027" r="4" fill="none" stroke="#162022" stroke-width="2"/><circle cx="192" cy="1038" r="4" fill="none" stroke="#162022" stroke-width="2"/><circle cx="192" cy="1049" r="4" fill="none" stroke="#162022" stroke-width="2"/><circle cx="204" cy="1027" r="4" fill="none" stroke="#162022" stroke-width="2"/><circle cx="204" cy="1038" r="4" fill="none" stroke="#162022" stroke-width="2"/><circle cx="204" cy="1049" r="4" fill="none" stroke="#162022" stroke-width="2"/><circle cx="216" cy="1027" r="4" fill="none" stroke="#162022" stroke-width="2"/><circle cx="216" cy="1038" r="4" fill="none" stroke="#162022" stroke-width="2"/><circle cx="216" cy="1049" r="4" fill="none" stroke="#162022" stroke-width="2"/><rect x="260.6" y="942.9" width="28" height="42.85" rx="2" fill="#2b261c"/><circle cx="283.6" cy="962.0" r="1.1" fill="#e0a030"/><circle cx="282.9" cy="965.4" r="1.1" fill="#e0a030"/><circle cx="281.0" cy="968.4" r="1.1" fill="#e0a030"/><circle cx="278.0" cy="970.3" r="1.1" fill="#e0a030"/><circle cx="274.6" cy="971.0" r="1.1" fill="#e0a030"/><circle cx="271.2" cy="970.3" r="1.1" fill="#e0a030"/><circle cx="268.2" cy="968.4" r="1.1" fill="#e0a030"/><circle cx="266.3" cy="965.4" r="1.1" fill="#e0a030"/><circle cx="265.6" cy="962.0" r="1.1" fill="#e0a030"/><circle cx="266.3" cy="958.6" r="1.1" fill="#e0a030"/><circle cx="268.2" cy="955.6" r="1.1" fill="#e0a030"/><circle cx="271.2" cy="953.7" r="1.1" fill="#e0a030"/><circle cx="274.6" cy="953.0" r="1.1" fill="#e0a030"/><circle cx="278.0" cy="953.7" r="1.1" fill="#e0a030"/><circle cx="281.0" cy="955.6" r="1.1" fill="#e0a030"/><circle cx="282.9" cy="958.6" r="1.1" fill="#e0a030"/><path d="M270,965 L274.6,955 L279,965 Z" fill="none" stroke="#e0e0e0" stroke-width="1.3"/><rect x="159.1" y="876.5" width="13.15" height="18.4" rx="1.5" fill="#2a2c2e" stroke="#d0d0d0" stroke-width="1"/><rect x="188" y="866" width="35.9" height="16.6" rx="2" fill="#1a1b1d"/><rect x="192" y="870" width="28" height="3" fill="#8a8e94"/><rect x="192" y="876" width="28" height="2" fill="#6a6e74"/><circle cx="181" cy="873" r="3.6" fill="#e8e8e8"/><circle cx="181" cy="873" r="2.2" fill="#d04030"/><rect x="147" y="891" width="6" height="8" rx="1" fill="#d03a2a"/><rect x="119" y="900" width="5" height="8" fill="#e8e8e8"/><rect x="126" y="900" width="5" height="8" fill="#d04030"/><rect x="297" y="925" width="8" height="9" rx="2" fill="#e0c020"/><rect x="325" y="908" width="7" height="9" rx="1" fill="#e04030"/><circle cx="104.9" cy="1030.4" r="4.5" fill="#f0e040"/>
<circle cx="160.9" cy="918.5" r="16.1" fill="#2b3435"/><circle cx="160.9" cy="918.5" r="14.9" fill="#161616"/><circle cx="160.9" cy="918.5" r="11.9" fill="none" stroke="#e6e6de" stroke-width="3.0" stroke-dasharray="1.1 2.64" opacity="0.9"/><line x1="160.9" y1="918.5" x2="169.1" y2="911.0" stroke="#eeeee6" stroke-width="1.4"/><circle cx="202" cy="910.6" r="19.6" fill="#2b3435"/><circle cx="202" cy="910.6" r="18.4" fill="#161616"/><circle cx="202" cy="910.6" r="14.7" fill="none" stroke="#e6e6de" stroke-width="3.7" stroke-dasharray="1.1 3.52" opacity="0.9"/><line x1="202" y1="910.6" x2="212.1" y2="901.4" stroke="#eeeee6" stroke-width="1.4"/><circle cx="245.75" cy="910.6" r="16.9" fill="#2b3435"/><circle cx="245.75" cy="910.6" r="15.75" fill="#161616"/><circle cx="245.75" cy="910.6" r="12.6" fill="none" stroke="#e6e6de" stroke-width="3.2" stroke-dasharray="1.1 2.86" opacity="0.9"/><line x1="245.75" y1="910.6" x2="254.4" y2="902.7" stroke="#eeeee6" stroke-width="1.4"/><circle cx="248.4" cy="875.6" r="13.4" fill="#2b3435"/><circle cx="248.4" cy="875.6" r="12.25" fill="#161616"/><circle cx="248.4" cy="875.6" r="9.8" fill="none" stroke="#e6e6de" stroke-width="2.5" stroke-dasharray="1.1 1.98" opacity="0.9"/><line x1="248.4" y1="875.6" x2="255.1" y2="869.5" stroke="#eeeee6" stroke-width="1.4"/><circle cx="307.9" cy="905.4" r="13.4" fill="#2b3435"/><circle cx="307.9" cy="905.4" r="12.25" fill="#161616"/><circle cx="307.9" cy="905.4" r="9.8" fill="none" stroke="#e6e6de" stroke-width="2.5" stroke-dasharray="1.1 1.98" opacity="0.9"/><line x1="307.9" y1="905.4" x2="314.6" y2="899.3" stroke="#eeeee6" stroke-width="1.4"/><circle cx="118" cy="968.25" r="16.1" fill="#2b3435"/><circle cx="118" cy="968.25" r="14.9" fill="#161616"/><circle cx="118" cy="968.25" r="11.9" fill="none" stroke="#e6e6de" stroke-width="3.0" stroke-dasharray="1.1 2.64" opacity="0.9"/><circle cx="118" cy="968.25" r="8.9" fill="none" stroke="#9a9a96" stroke-width="5.2" opacity="0.6"/><line x1="118" y1="968.25" x2="126.2" y2="960.8" stroke="#eeeee6" stroke-width="1.4"/><circle cx="118" cy="1005" r="16.1" fill="#2b3435"/><circle cx="118" cy="1005" r="14.9" fill="#161616"/><circle cx="118" cy="1005" r="11.9" fill="none" stroke="#e6e6de" stroke-width="3.0" stroke-dasharray="1.1 2.64" opacity="0.9"/><circle cx="118" cy="1005" r="8.9" fill="none" stroke="#9a9a96" stroke-width="5.2" opacity="0.6"/><line x1="118" y1="1005" x2="126.2" y2="997.5" stroke="#eeeee6" stroke-width="1.4"/><circle cx="123.25" cy="1038.25" r="12.6" fill="#2b3435"/><circle cx="123.25" cy="1038.25" r="11.4" fill="#161616"/><circle cx="123.25" cy="1038.25" r="9.1" fill="none" stroke="#e6e6de" stroke-width="2.3" stroke-dasharray="1.1 1.77" opacity="0.9"/><line x1="123.25" y1="1038.25" x2="129.5" y2="1032.5" stroke="#eeeee6" stroke-width="1.4"/><circle cx="160" cy="962.1" r="16.1" fill="#2b3435"/><circle cx="160" cy="962.1" r="14.9" fill="#161616"/><circle cx="160" cy="962.1" r="11.9" fill="none" stroke="#e6e6de" stroke-width="3.0" stroke-dasharray="1.1 2.64" opacity="0.9"/><line x1="160" y1="962.1" x2="168.2" y2="954.6" stroke="#eeeee6" stroke-width="1.4"/><circle cx="159.1" cy="997.1" r="16.9" fill="#2b3435"/><circle cx="159.1" cy="997.1" r="15.75" fill="#161616"/><circle cx="159.1" cy="997.1" r="12.6" fill="none" stroke="#e6e6de" stroke-width="3.2" stroke-dasharray="1.1 2.86" opacity="0.9"/><line x1="159.1" y1="997.1" x2="167.8" y2="989.2" stroke="#eeeee6" stroke-width="1.4"/><circle cx="204.6" cy="968.25" r="23.9" fill="#2b3435"/><circle cx="204.6" cy="968.25" r="22.75" fill="#161616"/><circle cx="204.6" cy="968.25" r="18.2" fill="none" stroke="#e6e6de" stroke-width="4.5" stroke-dasharray="1.1 4.62" opacity="0.9"/><line x1="204.6" y1="968.25" x2="217.1" y2="956.9" stroke="#eeeee6" stroke-width="1.4"/><circle cx="242.25" cy="970" r="12.6" fill="#2b3435"/><circle cx="242.25" cy="970" r="11.4" fill="#161616"/><circle cx="242.25" cy="970" r="9.1" fill="none" stroke="#e6e6de" stroke-width="2.3" stroke-dasharray="1.1 1.77" opacity="0.9"/><line x1="242.25" y1="970" x2="248.5" y2="964.3" stroke="#eeeee6" stroke-width="1.4"/><circle cx="307" cy="963.9" r="16.9" fill="#2b3435"/><circle cx="307" cy="963.9" r="15.75" fill="#161616"/><circle cx="307" cy="963.9" r="12.6" fill="none" stroke="#e6e6de" stroke-width="3.2" stroke-dasharray="1.1 2.86" opacity="0.9"/><line x1="307" y1="963.9" x2="315.7" y2="956.0" stroke="#eeeee6" stroke-width="1.4"/><circle cx="306.1" cy="999.75" r="16.9" fill="#2b3435"/><circle cx="306.1" cy="999.75" r="15.75" fill="#161616"/><circle cx="306.1" cy="999.75" r="12.6" fill="none" stroke="#e6e6de" stroke-width="3.2" stroke-dasharray="1.1 2.86" opacity="0.9"/><line x1="306.1" y1="999.75" x2="314.8" y2="991.9" stroke="#eeeee6" stroke-width="1.4"/><circle cx="306.1" cy="1033.9" r="16.1" fill="#2b3435"/><circle cx="306.1" cy="1033.9" r="14.9" fill="#161616"/><circle cx="306.1" cy="1033.9" r="11.9" fill="none" stroke="#e6e6de" stroke-width="3.0" stroke-dasharray="1.1 2.64" opacity="0.9"/><line x1="306.1" y1="1033.9" x2="314.3" y2="1026.5" stroke="#eeeee6" stroke-width="1.4"/><circle cx="273.75" cy="1033" r="13.4" fill="#2b3435"/><circle cx="273.75" cy="1033" r="12.25" fill="#161616"/><circle cx="273.75" cy="1033" r="9.8" fill="none" stroke="#e6e6de" stroke-width="2.5" stroke-dasharray="1.1 1.98" opacity="0.9"/><line x1="273.75" y1="1033" x2="280.5" y2="1026.9" stroke="#eeeee6" stroke-width="1.4"/><circle cx="237" cy="1059.25" r="10.8" fill="#2b3435"/><circle cx="237" cy="1059.25" r="9.6" fill="#161616"/><circle cx="237" cy="1059.25" r="7.7" fill="none" stroke="#e6e6de" stroke-width="1.9" stroke-dasharray="1.1 1.31" opacity="0.9"/><line x1="237" y1="1059.25" x2="242.3" y2="1054.5" stroke="#eeeee6" stroke-width="1.4"/><circle cx="256.25" cy="1058.4" r="9.1" fill="#2b3435"/><circle cx="256.25" cy="1058.4" r="7.9" fill="#161616"/><circle cx="256.25" cy="1058.4" r="6.3" fill="none" stroke="#e6e6de" stroke-width="1.6" stroke-dasharray="1.1 0.89" opacity="0.9"/><line x1="256.25" y1="1058.4" x2="260.6" y2="1054.5" stroke="#eeeee6" stroke-width="1.4"/><circle cx="198.7" cy="1090.7" r="13.2" fill="#2b3435"/><circle cx="198.7" cy="1090.7" r="12" fill="#161616"/><circle cx="198.7" cy="1090.7" r="9.6" fill="none" stroke="#e6e6de" stroke-width="2.4" stroke-dasharray="1.1 1.92" opacity="0.9"/><line x1="198.7" y1="1090.7" x2="205.3" y2="1084.7" stroke="#eeeee6" stroke-width="1.4"/><circle cx="256" cy="1090.7" r="13.2" fill="#2b3435"/><circle cx="256" cy="1090.7" r="12" fill="#161616"/><circle cx="256" cy="1090.7" r="9.6" fill="none" stroke="#e6e6de" stroke-width="2.4" stroke-dasharray="1.1 1.92" opacity="0.9"/><line x1="256" y1="1090.7" x2="262.6" y2="1084.7" stroke="#eeeee6" stroke-width="1.4"/><path d="M188,911 L216,911 M202,902 L202,922" stroke="#e8d040" stroke-width="2.2"/><path d="M234,908 C240,903 250,903 257,908" stroke="#e8d040" stroke-width="2" fill="none"/><path d="M300,909 L307,900 L312,912 Z" fill="none" stroke="#e03a2a" stroke-width="2"/><path d="M235,969 L249,969" stroke="#3aa0d0" stroke-width="4"/><circle cx="312" cy="1035" r="2.5" fill="#f0c020"/>
</g>

<!-- SEATS -->
<defs>
<pattern id="quilt" patternUnits="userSpaceOnUse" width="14" height="28" x="936" y="779">
<path d="M0,0 L14,28 M14,0 L0,28" stroke="#85858a" stroke-width="1.2" fill="none"/>
</pattern>
<g id="seatbase">
<!-- side wings -->
<path d="M944,721.3 C934,722 929.3,730 929.3,745 L930.5,870 C931,884 936,892 946,893 L966,893 L966,721.3 Z" fill="#8d8d90"/>
<path d="M1080.6,721.3 L1094,721.3 C1103,722 1108,730 1108,745 L1108,872 C1108,886 1104,893 1096,894 L1078,893 Z" fill="#8d8d90"/>
<!-- ears -->
<rect x="915" y="805" width="15" height="88" rx="5" fill="#939396"/>
<rect x="918" y="808" width="8" height="82" rx="3" fill="#a2a2a5"/>
<rect x="1108" y="805" width="15" height="87" rx="5" fill="#939396"/>
<rect x="1111.5" y="808" width="8" height="81" rx="3" fill="#a2a2a5"/>
<!-- top block -->
<path d="M971.2,691 L1065.4,691 L1075,714.4 L966.4,714.4 Z" fill="#88888c"/>
<path d="M976,712 L1021,695 L1068,712" stroke="#a0a0a4" stroke-width="1.2" fill="none"/>
<!-- headrest -->
<rect x="966.4" y="713" width="114.2" height="68" fill="#909094"/>
<path d="M985.6,780 L985.6,752 C987,732 1010,720 1035,720 C1060,720 1077.8,732 1077.8,752 L1077.8,780 Z" fill="#9c9c9c"/>
<!-- back cushion -->
<path d="M936.2,779 L1103,779 L1102,876 L1077.5,935.5 L952.5,935.5 L936.2,888 Z" fill="#a3a3a6"/>
<path d="M939,782 L1100,782 L1099,876 L1076,931 L955,931 L939,887 Z" fill="url(#quilt)"/>
</g>
</defs>
<use href="#seatbase"/>
<use href="#seatbase" transform="translate(314,0)"/>
<!-- seat1 pan -->
<!-- connector -->
<rect x="980" y="932" width="60" height="22" fill="#949498"/>
<rect x="998" y="932" width="24" height="22" fill="#9c9ca0"/>
<!-- seat pan frame -->
<path d="M925.3,948.7 L1101.3,948.7 L1101.3,1052 L928,1052 Z" fill="#9b9b9e"/>
<path d="M1101,960 L1115,968 L1124,1000 L1125,1040 L1101.3,1052 Z" fill="#98989b"/>
<!-- inner cushion -->
<path d="M940,956.7 L1084,956.7 C1092,957 1097,962 1097,970 L1097,1040 L940,1040 Z" fill="#7b7b7d"/>
<path d="M940,993 L1097,993 L1097,1040 L940,1040 Z" fill="#828284"/>
<path d="M1005.3,1014.7 L1045.3,1014.7 L1048,1054 L1002,1054 Z" fill="#6f6f72"/>
<!-- legs -->
<path d="M933.3,1032 L1000,1032 L1000,1078 C1000,1084 996,1087 990,1087 L942,1087 C936,1087 933.3,1083 933.3,1077 Z" fill="#a3a3a6"/>
<rect x="949.3" y="1034" width="33.4" height="44.7" rx="3" fill="#8c8c8f"/>
<path d="M1061.3,1032 L1125.3,1032 L1125.3,1077 C1125.3,1083 1122,1087 1116,1087 L1071,1087 C1065,1087 1061.3,1084 1061.3,1078 Z" fill="#a3a3a6"/>
<rect x="1078" y="1034" width="33.4" height="44.7" rx="3" fill="#8c8c8f"/>

<!-- seat2 pan -->
<rect x="1296" y="932" width="60" height="20" fill="#949498"/>
<rect x="1314" y="932" width="24" height="20" fill="#9c9ca0"/>
<path d="M1243.5,941.25 L1417.5,941.25 L1417.5,1065 L1369.5,1065 L1369.5,1050 L1302,1050 L1302,1065 L1244,1065 Z" fill="#9b9b9e"/>
<path d="M1417,957 L1427,962 L1430,1000 L1430,1040 L1417.5,1060 Z" fill="#98989b"/>
<path d="M1254.75,949.5 L1404,949.5 C1411,950 1416,955 1416,963 L1416,1040 L1254.75,1040 Z" fill="#868688"/>
<path d="M1265,972 L1400,972 L1400,993 L1265,993 Z" fill="#7b7b7d"/>
<path d="M1314,1002 L1359,1002 L1362,1049 L1311,1049 Z" fill="#8e8e91"/>
<path d="M1239,1035 L1302,1035 L1302,1084 C1302,1089 1298,1092 1292,1092 L1248,1092 C1242,1092 1239,1088 1239,1083 Z" fill="#a3a3a6"/>
<rect x="1258.5" y="1036" width="28.5" height="44" rx="3" fill="#8c8c8f"/>
<path d="M1369.5,1035 L1429.5,1035 L1429.5,1083 C1429.5,1089 1426,1092 1420,1092 L1379,1092 C1373,1092 1369.5,1089 1369.5,1084 Z" fill="#a3a3a6"/>
<rect x="1385" y="1036" width="28.5" height="44" rx="3" fill="#8c8c8f"/>

<!-- seat 1 harness -->
<g id="h1">
<path d="M967.6,789.6 L989.8,789.6 L992.1,873.6 L977,878.2 L963,913.2 L942,911 L952.5,857.3 Z" fill="#5b5147"/>
<path d="M1043.4,792 L1072.6,789.6 L1077.3,883 L1068,890 L1040,876 Z" fill="#5b5147"/>
<path d="M976.5,790 C978,820 982,850 987,871" stroke="#dcd6be" stroke-width="13" fill="none"/>
<path d="M973.5,886 L970.5,928" stroke="#dcd6be" stroke-width="12"/>
<path d="M1065.5,790 C1065,820 1063,845 1061.5,863" stroke="#dcd6be" stroke-width="13" fill="none"/>
<path d="M1061,890 L1064,927" stroke="#dcd6be" stroke-width="12"/>
<path d="M991,802 L1002,819 M1050,798 L1036,819 M995,853 L992,868 M1038,853 L1042,870" stroke="#dcd6be" stroke-width="10"/>
<path d="M1002,813 L1036,813 L1042.3,820 L1042.3,848 L1036,855 L1002,855 L995.6,848 L995.6,820 Z" fill="#5f8b8a" stroke="#4a4a40" stroke-width="1.3"/>
<path d="M1002,820 L1036,848 M1036,820 L1002,848" stroke="#3f6a69" stroke-width="1.6"/>
<rect x="953.6" y="863" width="35" height="10.6" fill="#b9b9ca"/>
<rect x="1030.6" y="885.2" width="42" height="11.8" fill="#cacad4" transform="rotate(-5 1051 891)"/>
<path d="M971.5,993 L999,993 L986,1020 L980,1020 Z" fill="#5a5048"/>
<path d="M981,1020 L957,1095" stroke="#d8d2bb" stroke-width="9"/>
<rect x="960" y="1040" width="20" height="6" fill="none" stroke="#8a8a9a" stroke-width="1.5" transform="rotate(-70 970 1043)"/>
<path d="M1049.4,993 L1077,993 L1072,1020 L1066,1020 Z" fill="#5a5048"/>
<path d="M1068,1020 L1093,1095" stroke="#d8d2bb" stroke-width="9"/>
<rect x="1067" y="1040" width="20" height="6" fill="none" stroke="#8a8a9a" stroke-width="1.5" transform="rotate(70 1077 1043)"/>
</g>
<!-- seat 2 harness -->
<g id="h2">
<path d="M1285.3,784.2 L1303.7,784.2 L1309.4,872 L1278.2,906 L1257,906 L1272.6,849.3 Z" fill="#5b5147"/>
<path d="M1360.4,785.6 L1371.7,785.6 L1393,877.6 L1380,885 L1356,872 Z" fill="#5b5147"/>
<path d="M1316,803 L1325,814 M1364,801 L1352,814 M1318,852 L1314,866 M1350,852 L1356,868" stroke="#dcd6be" stroke-width="11"/>
<path d="M1317,812.5 L1350,812.5 L1356,819 L1356,847 L1350,853.6 L1317,853.6 L1310.8,847 L1310.8,819 Z" fill="#5f8b8a" stroke="#4a4a40" stroke-width="1.3"/>
<path d="M1317,819 L1350,847 M1350,819 L1317,847" stroke="#3f6a69" stroke-width="1.6"/>
<path d="M1292.4,784 L1289,840" stroke="#d6d0bc" stroke-width="16"/>
<path d="M1378,784 L1378,840" stroke="#d6d0bc" stroke-width="14"/>
<path d="M1289,849 L1288,940 L1272,1008" stroke="#777686" stroke-width="12" fill="none"/>
<path d="M1379,849 L1380,940 L1400,1008" stroke="#777686" stroke-width="12" fill="none"/>
<rect x="1282.5" y="838" width="18.5" height="11.3" fill="#d9d9e0"/><rect x="1282" y="839" width="4" height="9" fill="#e05038"/><rect x="1297" y="839" width="4" height="9" fill="#e05038"/>
<rect x="1369" y="839.4" width="18" height="11.3" fill="#d9d9e0"/><rect x="1369" y="840" width="4" height="9" fill="#e05038"/><rect x="1383" y="840" width="4" height="9" fill="#e05038"/>
<rect x="1279" y="875" width="19" height="6" fill="#cfcfd8"/>
<path d="M1371,868.5 L1362,868.5 C1359,868.5 1359,871 1359,873 L1359,896 C1359,899 1361,900.5 1364,900.5 L1373,900.5" fill="none" stroke="#e2553a" stroke-width="3.5"/>
<path d="M1305,955 C1298,975 1328,1000 1335,1015 C1342,1000 1372,975 1365,955" fill="none" stroke="#8b5a3c" stroke-width="4"/>
<path d="M1300,956 C1310,948 1330,950 1333,958 M1337,958 C1342,950 1360,948 1369,956" fill="none" stroke="#9a6a40" stroke-width="4"/>
<rect x="1322" y="967" width="24" height="9" fill="#e0503a"/>
<rect x="1327" y="1013" width="15" height="40" fill="#161616"/>
<path d="M1282.5,993 L1308,993 L1296,1023 L1290,1023 Z" fill="#5a5048"/>
<path d="M1293,1023 L1262,1095" stroke="#d5cfb8" stroke-width="9"/>
<path d="M1360.5,994.5 L1384.5,994.5 L1378,1020 L1372,1020 Z" fill="#5a5048"/>
<path d="M1374,1020 L1399.5,1095" stroke="#d5cfb8" stroke-width="9"/>
</g>
<!-- AIRCRAFT -->
<defs>
<filter id="rough" x="-10%" y="-10%" width="120%" height="120%"><feTurbulence type="fractalNoise" baseFrequency="0.12" numOctaves="2" seed="4" result="n"/><feDisplacementMap in="SourceGraphic" in2="n" scale="7" xChannelSelector="R" yChannelSelector="G"/></filter>
<clipPath id="acclip">
<path d="M235.6,236.9 L283.75,225 L356.4,282.6 L491.1,254.4 L493.9,271.6 L498,275 C560,266 640,258 713,255 C690,262 665,274 651.5,281 C620,295 560,312 498,321 L498,328 L465,344 L412,366 L338.5,384.4 L352,367 L234.75,518.4 L175.25,526.25 L210.25,395 L205,404.6 L122.75,480.75 L116.6,469 L147.25,419.5 L166,396 L118,385 L91.25,374.4 L100,370 L140,368 L152,357 L160,341 L125,305 L118.75,299 L123.75,287.5 L212.5,308.75 L228.75,310 Z"/>
</clipPath>
</defs>
<g id="aircraft">
<g clip-path="url(#acclip)">
<rect x="85" y="210" width="670" height="330" fill="#c4917a"/>
<path d="M210.25,395 L352,367 L234.75,518.4 L175.25,526.25 Z" fill="#cda08a"/><path d="M420,345 L498,328 L465,344 L412,366 L380,372 Z" fill="#8d7a5a"/><path d="M400,352 L440,342 L430,360 L395,368 Z" fill="#d0a060"/>
<path d="M498,275 C560,266 640,258 713,255 C690,262 665,274 651.5,281 C620,295 560,312 498,321 Z" fill="#bb9a78"/>
<path d="M498,275 C560,266 640,258 713,255 L700,258.5 C640,263 580,272 498,292 Z" fill="#b5bfc3"/><path d="M640,259.5 L713,255 C690,262 665,274 651.5,281 L640,287 Z" fill="#85796e"/><path d="M600,264 L640,260 L640,287 L600,298 Z" fill="#a09a92"/>
<path d="M525,300 L545,296 L560,301 L550,309 L530,310 Z" fill="#e6d8a0"/><path d="M565,296 L580,292 L585,300 L570,306 Z" fill="#5e6a50"/><path d="M498,292 L520,288 L522,302 L498,310 Z" fill="#a8a870"/>
<path d="M472,281 L500,274 L528,272 L532,280 L505,287 L474,294 Z" fill="#dfe3e0"/>
<path d="M440,312 L496,310 L498,328 L443,339 Z" fill="#a09a98"/>
<path d="M150,345 L205,336 L210,356 L152,363 Z" fill="#b3ad95"/>
<path d="M145,396 L209,398 L209,411 L147,412 Z" fill="#c0b591"/>
<g fill="#617859" filter="url(#rough)"><path d="M235.8,239.7 C238.6,235.0 248.5,232.1 255.6,231.2 C262.7,230.2 271.7,230.9 278.3,234.0 C284.9,237.1 295.3,245.8 295.3,249.6 C295.3,253.4 284.0,256.5 278.3,256.7 C272.6,256.9 267.9,250.5 261.3,251.0 C254.7,251.5 242.8,261.4 238.6,259.5 C234.3,257.6 233.0,244.4 235.8,239.7 Z"/><path d="M278.3,259.5 C281.1,256.7 293.4,253.6 301.0,253.8 C308.6,254.1 320.3,257.7 323.6,261.0 C326.9,264.3 325.5,270.9 320.8,273.7 C316.1,276.5 301.4,278.5 295.3,278.0 C289.2,277.5 286.8,273.9 284.0,270.8 C281.2,267.7 275.5,262.3 278.3,259.5 Z"/><path d="M326.5,279.3 C329.8,276.0 341.4,275.6 346.3,276.5 C351.2,277.4 355.2,279.8 356.2,285.0 C357.1,290.2 355.5,302.9 352.0,307.6 C348.5,312.3 339.2,315.2 335.0,313.3 C330.8,311.4 327.9,302.0 326.5,296.3 C325.1,290.6 323.2,282.6 326.5,279.3 Z"/><path d="M122.5,296.3 C125.3,294.4 140.8,294.4 145.0,296.3 C149.2,298.2 150.8,305.7 148.0,307.6 C145.2,309.5 132.2,309.5 128.0,307.6 C123.8,305.7 119.7,298.2 122.5,296.3 Z"/><path d="M422.8,265.0 C426.1,261.7 443.4,261.2 450.0,262.0 C456.6,262.8 461.6,266.7 462.4,270.0 C463.2,273.3 460.4,280.0 455.0,282.0 C449.6,284.0 435.4,284.8 430.0,282.0 C424.6,279.2 419.5,268.3 422.8,265.0 Z"/><path d="M267.0,404.0 C271.7,401.6 284.9,398.7 289.6,401.0 C294.3,403.3 297.2,412.3 295.3,418.0 C293.4,423.7 284.0,432.6 278.3,435.0 C272.6,437.4 264.1,435.6 261.3,432.3 C258.5,429.0 260.4,420.0 261.3,415.3 C262.2,410.6 262.3,406.4 267.0,404.0 Z"/><path d="M168.0,425.0 C172.2,419.2 184.7,415.8 190.0,415.0 C195.3,414.2 200.8,415.8 200.0,420.0 C199.2,424.2 190.8,435.0 185.0,440.0 C179.2,445.0 167.8,452.5 165.0,450.0 C162.2,447.5 163.8,430.8 168.0,425.0 Z"/><path d="M340.0,352.0 C341.7,347.5 353.3,345.3 360.0,345.0 C366.7,344.7 378.3,346.7 380.0,350.0 C381.7,353.3 375.0,361.3 370.0,365.0 C365.0,368.7 355.0,374.2 350.0,372.0 C345.0,369.8 338.3,356.5 340.0,352.0 Z"/></g>
<g fill="#8b8f7a" filter="url(#rough)"><path d="M201.8,426.6 C208.4,422.8 228.7,425.2 238.6,426.6 C248.5,428.0 258.5,430.3 261.3,435.0 C264.1,439.7 261.3,450.7 255.6,455.0 C249.9,459.3 236.7,461.6 227.3,460.6 C217.9,459.7 203.2,455.0 199.0,449.3 C194.8,443.6 195.2,430.4 201.8,426.6 Z"/><path d="M201.8,506.0 C204.8,501.7 213.9,499.3 220.0,500.0 C226.1,500.7 235.9,506.2 238.6,510.0 C241.3,513.8 242.1,520.3 236.0,523.0 C229.9,525.7 207.5,528.8 201.8,526.0 C196.1,523.2 198.8,510.3 201.8,506.0 Z"/><path d="M152.0,392.0 C156.2,389.8 170.3,392.8 175.0,395.0 C179.7,397.2 184.2,402.8 180.0,405.0 C175.8,407.2 154.7,410.2 150.0,408.0 C145.3,405.8 147.8,394.2 152.0,392.0 Z"/></g>
<g fill="#ebe6cd" filter="url(#rough)"><path d="M235.8,262.3 C238.6,258.1 246.7,264.2 250.0,268.0 C253.3,271.8 255.6,279.3 255.6,285.0 C255.6,290.7 252.8,297.8 250.0,302.0 C247.2,306.2 241.4,311.9 238.6,310.5 C235.8,309.1 233.5,301.5 233.0,293.5 C232.5,285.5 233.0,266.6 235.8,262.3 Z"/><path d="M295.3,282.0 C299.5,276.8 309.8,276.0 315.0,276.5 C320.2,277.0 326.9,280.8 326.5,285.0 C326.1,289.2 316.1,294.9 312.3,302.0 C308.5,309.1 308.1,323.7 303.8,327.5 C299.6,331.3 289.2,327.9 286.8,324.6 C284.4,321.3 288.2,314.7 289.6,307.6 C291.0,300.5 291.1,287.2 295.3,282.0 Z"/><path d="M145.0,310.5 C148.8,308.1 160.8,305.3 170.7,304.8 C180.6,304.3 196.1,305.2 204.6,307.6 C213.1,310.0 222.1,315.9 221.6,319.0 C221.1,322.1 210.3,325.1 201.8,326.0 C193.3,326.9 179.7,325.8 170.7,324.6 C161.7,323.4 152.3,321.4 148.0,319.0 C143.7,316.6 141.2,312.9 145.0,310.5 Z"/><path d="M261.3,336.0 C263.7,333.6 271.7,335.8 278.3,333.0 C284.9,330.2 293.9,323.2 301.0,319.0 C308.1,314.8 316.1,307.6 320.8,307.6 C325.5,307.6 331.7,314.8 329.3,319.0 C326.9,323.2 314.2,328.3 306.6,333.0 C299.1,337.7 291.1,344.9 284.0,347.3 C276.9,349.7 267.8,349.2 264.0,347.3 C260.2,345.4 258.9,338.4 261.3,336.0 Z"/><path d="M363.3,319.0 C367.6,315.7 381.3,316.7 386.0,319.0 C390.7,321.3 394.4,328.3 391.6,333.0 C388.8,337.7 374.2,346.3 369.0,347.3 C363.8,348.3 361.4,343.5 360.5,338.8 C359.6,334.1 359.1,322.3 363.3,319.0 Z"/><path d="M414.0,293.5 C415.7,290.7 424.3,289.6 430.0,290.0 C435.7,290.4 446.3,293.1 448.0,296.0 C449.7,298.9 444.7,305.8 440.0,307.6 C435.3,309.4 424.3,309.4 420.0,307.0 C415.7,304.6 412.3,296.3 414.0,293.5 Z"/><path d="M420.0,321.8 C422.4,318.5 430.9,314.6 437.0,316.0 C443.1,317.4 455.9,326.0 456.8,330.3 C457.7,334.6 448.3,340.7 442.6,341.6 C436.9,342.6 426.6,339.3 422.8,336.0 C419.0,332.7 417.6,325.1 420.0,321.8 Z"/><path d="M204.6,415.3 C206.9,412.9 215.9,411.0 221.6,409.6 C227.3,408.2 232.9,405.4 238.6,406.8 C244.3,408.2 254.6,414.7 255.6,418.0 C256.6,421.3 250.0,425.6 244.3,426.6 C238.6,427.6 227.7,424.3 221.6,423.8 C215.5,423.3 210.3,425.2 207.5,423.8 C204.7,422.4 202.2,417.7 204.6,415.3 Z"/><path d="M250.0,438.0 C253.3,433.3 260.7,435.2 264.0,438.0 C267.3,440.8 271.2,449.3 269.8,455.0 C268.4,460.7 259.9,470.1 255.6,472.0 C251.3,473.9 245.2,472.0 244.3,466.3 C243.4,460.6 246.7,442.7 250.0,438.0 Z"/><path d="M97.0,370.0 C99.5,368.5 112.0,369.7 120.0,371.0 C128.0,372.3 143.3,376.0 145.0,378.0 C146.7,380.0 136.7,382.7 130.0,383.0 C123.3,383.3 110.5,382.2 105.0,380.0 C99.5,377.8 94.5,371.5 97.0,370.0 Z"/><path d="M120.0,455.0 C122.2,448.7 131.3,441.2 135.0,440.0 C138.7,438.8 142.8,443.0 142.0,448.0 C141.2,453.0 133.3,465.0 130.0,470.0 C126.7,475.0 123.7,480.5 122.0,478.0 C120.3,475.5 117.8,461.3 120.0,455.0 Z"/><path d="M155.0,352.0 C161.7,349.3 191.7,345.2 200.0,345.0 C208.3,344.8 211.7,348.3 205.0,351.0 C198.3,353.7 168.3,360.8 160.0,361.0 C151.7,361.2 148.3,354.7 155.0,352.0 Z"/><path d="M160.0,400.0 C167.2,398.8 198.3,400.3 205.0,402.0 C211.7,403.7 207.2,408.8 200.0,410.0 C192.8,411.2 168.7,410.7 162.0,409.0 C155.3,407.3 152.8,401.2 160.0,400.0 Z"/></g>
<g fill="#bccb92" filter="url(#rough)"><path d="M278.3,375.6 C280.2,371.4 288.7,364.3 295.3,358.6 C301.9,352.9 311.4,345.9 318.0,341.6 C324.6,337.3 331.7,332.1 335.0,333.0 C338.3,333.9 340.6,343.0 337.8,347.3 C335.0,351.6 325.1,352.9 318.0,358.6 C310.9,364.3 301.0,377.1 295.3,381.3 C289.6,385.5 286.8,384.9 284.0,384.0 C281.2,383.1 276.4,379.8 278.3,375.6 Z"/><path d="M204.6,466.3 C208.4,459.2 214.6,463.8 216.0,469.0 C217.4,474.2 215.6,488.5 213.2,497.5 C210.8,506.5 205.1,520.6 201.8,523.0 C198.5,525.4 192.8,521.1 193.3,511.6 C193.8,502.2 200.8,473.4 204.6,466.3 Z"/><path d="M180.0,305.0 C183.3,302.3 194.7,299.2 200.0,300.0 C205.3,300.8 212.8,307.0 212.0,310.0 C211.2,313.0 200.3,317.0 195.0,318.0 C189.7,319.0 182.5,318.2 180.0,316.0 C177.5,313.8 176.7,307.7 180.0,305.0 Z"/><path d="M255.0,236.0 C257.2,233.7 270.8,231.3 275.0,232.0 C279.2,232.7 282.2,237.7 280.0,240.0 C277.8,242.3 266.2,246.7 262.0,246.0 C257.8,245.3 252.8,238.3 255.0,236.0 Z"/><path d="M395.0,355.0 C397.5,351.7 414.2,345.5 420.0,345.0 C425.8,344.5 432.5,348.7 430.0,352.0 C427.5,355.3 410.8,364.5 405.0,365.0 C399.2,365.5 392.5,358.3 395.0,355.0 Z"/></g>
<path d="M140,367 L420,306" stroke="#dcb48e" stroke-width="4.5" opacity="0.85" stroke-linecap="round"/><path d="M123.75,289.5 L212.5,310" stroke="#a8a494" stroke-width="5"/>
<path d="M338.5,384.4 C380,372 430,352 498,328" stroke="#705040" stroke-width="5" opacity="0.45" fill="none"/>
<path d="M356.4,282.6 L491.1,254.4 L493.9,271.6 L404.5,295 Z" fill="#b98a74" opacity="0.5"/>
<g stroke="#7a5040" stroke-width="0.8" opacity="0.45" fill="none">
<path d="M240,262 L300,248 M236,290 L330,270 M232,318 L350,292"/>
<path d="M250,240 L262,310 M280,232 L300,300 M310,250 L322,300"/>
<path d="M205,420 L345,385 M198,445 L320,415 M190,470 L290,450 M183,495 L262,480"/>
<path d="M240,400 L215,520 M270,395 L250,500 M300,390 L262,470"/>
<path d="M260,340 L480,300 M250,355 L470,318 M300,320 L310,360 M360,310 L365,352 M420,298 L425,338"/>
<path d="M130,295 L200,312 M150,378 L240,380"/>
</g>
<path d="M338.5,384.4 L412,366 L465,344 L498,328 L498,321 L440,338 L400,352 Z" fill="#5a4a3a" opacity="0.25"/>
<path d="M494,272 L404.5,295 L356.4,300" stroke="#6a4a3a" stroke-width="1.6" opacity="0.6" fill="none"/><path d="M404.5,297 L472,283 L472,300 L420,310 Z" fill="#a89080" opacity="0.5"/><polygon points="268.4,237.0 270.1,241.6 275.1,241.8 271.2,244.9 272.5,249.7 268.4,246.9 264.3,249.7 265.6,244.9 261.7,241.8 266.7,241.6" fill="#d42b2b" stroke="#f4e8e0" stroke-width="1.2"/><polygon points="159.3,379.0 160.5,382.3 164.1,382.5 161.3,384.6 162.2,388.0 159.3,386.1 156.4,388.0 157.3,384.6 154.5,382.5 158.1,382.3" fill="#d43a2b" stroke="#f0e0d8" stroke-width="1.2"/><polygon points="223.0,478.5 225.2,484.4 231.6,484.7 226.6,488.7 228.3,494.8 223.0,491.3 217.7,494.8 219.4,488.7 214.4,484.7 220.8,484.4" fill="#e0363a" stroke="#f8f0f0" stroke-width="1.2"/>
</g>
<line x1="235.6" y1="236.9" x2="313.75" y2="212.5" stroke="#8a6048" stroke-width="3.5" stroke-linecap="round"/>
<line x1="173.5" y1="528" x2="273.25" y2="516.6" stroke="#6a5040" stroke-width="3.2" stroke-linecap="round"/>
<line x1="712" y1="255" x2="749" y2="245.6" stroke="#777" stroke-width="1.3"/>
</g>

<!-- LOGO -->
<g id="logo">
<path fill-rule="evenodd" fill="#1ab5c6" d="M138,91 C138.5,74 128,62 113,62.2 C96,62.5 80,78 79.8,97 C79.6,112 92,121.5 108,121 C124,120.5 137.5,108 138,91 Z M130.8,86 C130,79 124,75.5 117,76 C102,77 90,90 90,103 C90,112 96,117 105,116.8 C119,116 131.5,100 130.8,86 Z"/>
<path d="M99,89 C104,80 112,73 124,70.5 L131,69.5" stroke="#fff" stroke-width="2.2" fill="none"/>
<path fill="#1c4fa0" d="M102,92.6 L137,99.2 C143,100.3 143.5,104.5 139,105.8 L125,107.6 C122,108 122,109.6 125,110.6 L154.5,115.6 L132.5,120 C125,117.5 118.5,113.5 116.5,110.5 C114.5,107.2 116.5,104.6 121.5,104 L134,102.2 L102,93.6 Z"/>
<path fill="#1c4fa0" d="M106.5,89.5 L107.8,92.5 L111,93.7 L107.8,95 L106.5,98 L105.2,95 L102,93.7 L105.2,92.5 Z"/>
</g>

<!-- SHAPES_END -->

<!-- WATERMARK -->
<defs><filter id="wblur" x="-5%" y="-20%" width="110%" height="140%"><feGaussianBlur stdDeviation="2.2"/></filter></defs>
<g font-family="Liberation Sans" font-weight="bold" font-size="113">
<text x="46" y="1148" fill="#c8c8c8" opacity="0.45" filter="url(#wblur)" textLength="675" lengthAdjust="spacingAndGlyphs">i-modelist.ru</text>
<text x="49" y="1146" fill="#ffffff" opacity="0.45" textLength="675" lengthAdjust="spacingAndGlyphs">i-modelist.ru</text>
</g>

<!-- LABELS -->
<g id="labels">
<g class="ln">
<line x1="1097.7" y1="131" x2="1152" y2="261"/>
<line x1="1341" y1="131" x2="1277.5" y2="255"/>
<line x1="931.7" y1="331.9" x2="1048.7" y2="277.5"/>
<line x1="1433" y1="326" x2="1285" y2="273.7"/>
<line x1="1059.7" y1="481.2" x2="1105" y2="318.7"/>
<line x1="1237.2" y1="481.2" x2="1270" y2="326"/>
<line x1="1329.6" y1="481.2" x2="1287" y2="317"/>
<line x1="438.4" y1="645" x2="482.5" y2="751"/>
<line x1="533.6" y1="645" x2="565" y2="722.5"/>
<line x1="625.5" y1="645" x2="610.7" y2="719"/>
<line x1="720.6" y1="645" x2="671" y2="771.5"/>
<line x1="446.1" y1="944.2" x2="433" y2="854"/>
<polyline points="595,831.7 638.6,944.2 642,831.7"/>
<line x1="733.8" y1="944.2" x2="699.4" y2="800"/>
<line x1="102.7" y1="810.6" x2="127" y2="907"/>
<line x1="210" y1="807.4" x2="241.6" y2="869"/>
<line x1="310" y1="809" x2="316.8" y2="900"/>
<line x1="358" y1="1104" x2="319.8" y2="1028.9"/>
<line x1="941" y1="691.3" x2="1017.2" y2="830.8"/>
<line x1="901" y1="919.9" x2="964.3" y2="868.2"/>
<line x1="1127" y1="919.9" x2="1061" y2="864.4"/>
<line x1="977" y1="1035.4" x2="1021.9" y2="1107"/>
<line x1="1080.6" y1="1034.5" x2="1038.4" y2="1107"/>
<line x1="1207.8" y1="944.6" x2="1290" y2="892.6"/>
<line x1="1461.6" y1="944.6" x2="1379.4" y2="892.6"/>
<line x1="1338.3" y1="1104.1" x2="1333.5" y2="1036.4"/>
</g>
<g class="lo">
<line x1="1212" y1="133" x2="1197" y2="212"/>
<line x1="1146.9" y1="480.2" x2="1153.7" y2="377"/>
<line x1="539" y1="944.2" x2="514" y2="865"/>
<line x1="431" y1="1043" x2="377.2" y2="1003.4"/>
</g>
<g class="lb">
<text x="1086" y="124.5">16</text>
<text x="1216" y="124.5" class="or">2</text>
<text x="1347" y="124.5">17</text>
<text x="909.5" y="347.1">14</text>
<text x="1448" y="347.1">4</text>
<text x="1059.3" y="510.6">13</text>
<text x="1148" y="510.6" class="or">3</text>
<text x="1237.7" y="510.6">12</text>
<text x="1332.2" y="510.6">11</text>
<text x="436.2" y="638.4">7</text>
<text x="533.6" y="638.4">10</text>
<text x="629.3" y="638.4">9</text>
<text x="725.6" y="638.4">8</text>
<text x="446.1" y="973.8">18</text>
<text x="541.5" y="973.8" class="or">4</text>
<text x="639.7" y="973.8">15</text>
<text x="735.4" y="973.8">5</text>
<text x="100" y="799.2">1</text>
<text x="204.3" y="799.2">2</text>
<text x="309.1" y="799.2">3</text>
<text x="365.2" y="1132.3">6</text>
<text x="444" y="1061.4" class="or">1</text>
<text x="934.6" y="681">G</text>
<text x="888" y="939.3">F</text>
<text x="1137.3" y="939.3">C</text>
<text x="1032.5" y="1132.6">A</text>
<text x="1198.1" y="966.3">B</text>
<text x="1477.3" y="966.3">D</text>
<text x="1338.3" y="1133.1">E</text>
</g>
</g>

</svg>
</body></html>
